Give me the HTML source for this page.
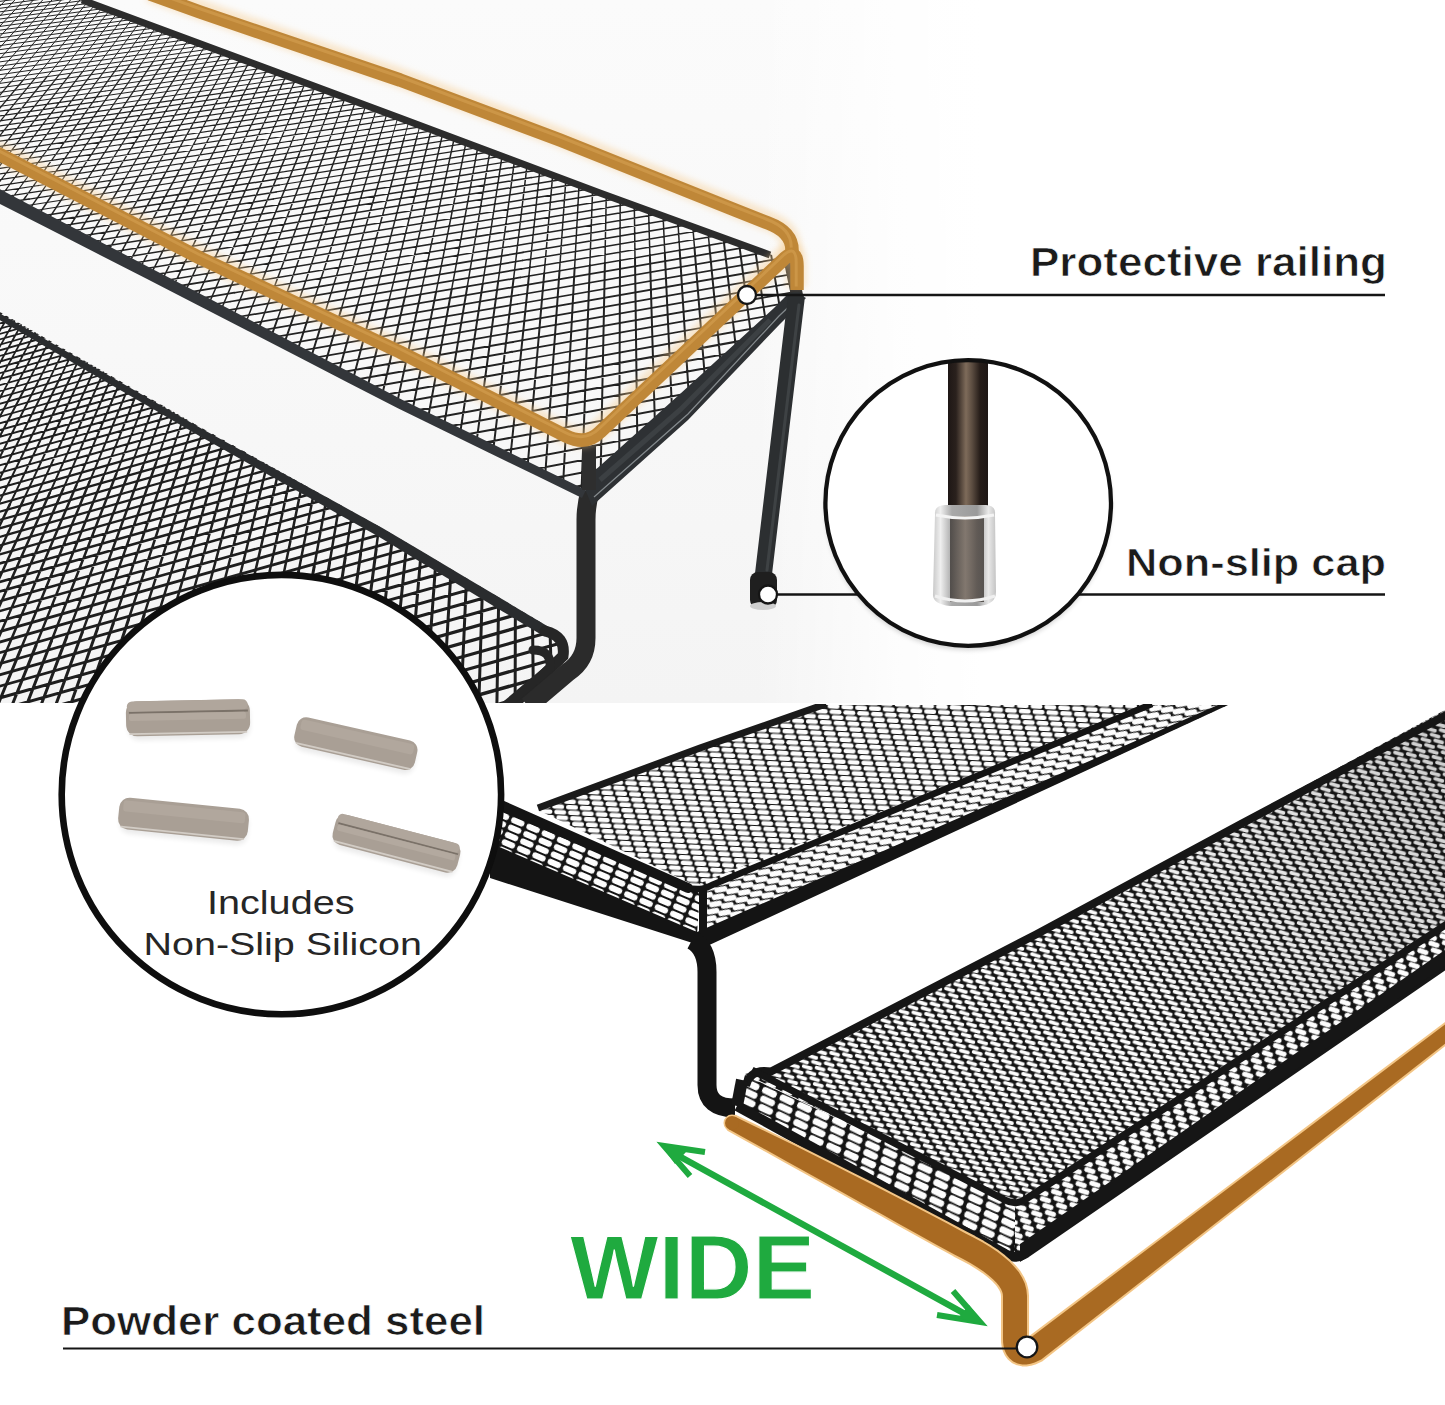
<!DOCTYPE html>
<html><head><meta charset="utf-8"><style>
html,body{margin:0;padding:0;background:#fff;}
svg{display:block;}
</style></head><body>
<svg width="1445" height="1405" viewBox="0 0 1445 1405">
<defs>
<pattern id="b1" width="13.820" height="32.867" patternUnits="userSpaceOnUse" patternTransform="rotate(3.111)"><rect width="14.820" height="33.867" fill="#151515"/><rect x="-6.00" y="-2.20" width="12.00" height="4.40" rx="2.20" transform="translate(-13.82,2.74) rotate(-0.11) skewX(0.00)" fill="#fdfdfd"/><rect x="-6.00" y="-2.20" width="12.00" height="4.40" rx="2.20" transform="translate(-13.82,35.61) rotate(-0.11) skewX(0.00)" fill="#fdfdfd"/><rect x="-6.00" y="-2.20" width="12.00" height="4.40" rx="2.20" transform="translate(0.00,2.74) rotate(-0.11) skewX(0.00)" fill="#fdfdfd"/><rect x="-6.00" y="-2.20" width="12.00" height="4.40" rx="2.20" transform="translate(0.00,35.61) rotate(-0.11) skewX(0.00)" fill="#fdfdfd"/><rect x="-6.00" y="-2.20" width="12.00" height="4.40" rx="2.20" transform="translate(13.82,2.74) rotate(-0.11) skewX(0.00)" fill="#fdfdfd"/><rect x="-6.00" y="-2.20" width="12.00" height="4.40" rx="2.20" transform="translate(13.82,35.61) rotate(-0.11) skewX(0.00)" fill="#fdfdfd"/><rect x="-6.00" y="-2.20" width="12.00" height="4.40" rx="2.20" transform="translate(-11.52,8.22) rotate(-0.11) skewX(0.00)" fill="#fdfdfd"/><rect x="-6.00" y="-2.20" width="12.00" height="4.40" rx="2.20" transform="translate(-11.52,41.08) rotate(-0.11) skewX(0.00)" fill="#fdfdfd"/><rect x="-6.00" y="-2.20" width="12.00" height="4.40" rx="2.20" transform="translate(2.30,8.22) rotate(-0.11) skewX(0.00)" fill="#fdfdfd"/><rect x="-6.00" y="-2.20" width="12.00" height="4.40" rx="2.20" transform="translate(2.30,41.08) rotate(-0.11) skewX(0.00)" fill="#fdfdfd"/><rect x="-6.00" y="-2.20" width="12.00" height="4.40" rx="2.20" transform="translate(16.12,8.22) rotate(-0.11) skewX(0.00)" fill="#fdfdfd"/><rect x="-6.00" y="-2.20" width="12.00" height="4.40" rx="2.20" transform="translate(16.12,41.08) rotate(-0.11) skewX(0.00)" fill="#fdfdfd"/><rect x="-6.00" y="-2.20" width="12.00" height="4.40" rx="2.20" transform="translate(-9.21,13.69) rotate(-0.11) skewX(0.00)" fill="#fdfdfd"/><rect x="-6.00" y="-2.20" width="12.00" height="4.40" rx="2.20" transform="translate(-9.21,46.56) rotate(-0.11) skewX(0.00)" fill="#fdfdfd"/><rect x="-6.00" y="-2.20" width="12.00" height="4.40" rx="2.20" transform="translate(4.61,13.69) rotate(-0.11) skewX(0.00)" fill="#fdfdfd"/><rect x="-6.00" y="-2.20" width="12.00" height="4.40" rx="2.20" transform="translate(4.61,46.56) rotate(-0.11) skewX(0.00)" fill="#fdfdfd"/><rect x="-6.00" y="-2.20" width="12.00" height="4.40" rx="2.20" transform="translate(18.43,13.69) rotate(-0.11) skewX(0.00)" fill="#fdfdfd"/><rect x="-6.00" y="-2.20" width="12.00" height="4.40" rx="2.20" transform="translate(18.43,46.56) rotate(-0.11) skewX(0.00)" fill="#fdfdfd"/><rect x="-6.00" y="-2.20" width="12.00" height="4.40" rx="2.20" transform="translate(-6.91,-13.69) rotate(-0.11) skewX(0.00)" fill="#fdfdfd"/><rect x="-6.00" y="-2.20" width="12.00" height="4.40" rx="2.20" transform="translate(-6.91,19.17) rotate(-0.11) skewX(0.00)" fill="#fdfdfd"/><rect x="-6.00" y="-2.20" width="12.00" height="4.40" rx="2.20" transform="translate(6.91,-13.69) rotate(-0.11) skewX(0.00)" fill="#fdfdfd"/><rect x="-6.00" y="-2.20" width="12.00" height="4.40" rx="2.20" transform="translate(6.91,19.17) rotate(-0.11) skewX(0.00)" fill="#fdfdfd"/><rect x="-6.00" y="-2.20" width="12.00" height="4.40" rx="2.20" transform="translate(20.73,-13.69) rotate(-0.11) skewX(0.00)" fill="#fdfdfd"/><rect x="-6.00" y="-2.20" width="12.00" height="4.40" rx="2.20" transform="translate(20.73,19.17) rotate(-0.11) skewX(0.00)" fill="#fdfdfd"/><rect x="-6.00" y="-2.20" width="12.00" height="4.40" rx="2.20" transform="translate(-4.61,-8.22) rotate(-0.11) skewX(0.00)" fill="#fdfdfd"/><rect x="-6.00" y="-2.20" width="12.00" height="4.40" rx="2.20" transform="translate(-4.61,24.65) rotate(-0.11) skewX(0.00)" fill="#fdfdfd"/><rect x="-6.00" y="-2.20" width="12.00" height="4.40" rx="2.20" transform="translate(9.21,-8.22) rotate(-0.11) skewX(0.00)" fill="#fdfdfd"/><rect x="-6.00" y="-2.20" width="12.00" height="4.40" rx="2.20" transform="translate(9.21,24.65) rotate(-0.11) skewX(0.00)" fill="#fdfdfd"/><rect x="-6.00" y="-2.20" width="12.00" height="4.40" rx="2.20" transform="translate(23.03,-8.22) rotate(-0.11) skewX(0.00)" fill="#fdfdfd"/><rect x="-6.00" y="-2.20" width="12.00" height="4.40" rx="2.20" transform="translate(23.03,24.65) rotate(-0.11) skewX(0.00)" fill="#fdfdfd"/><rect x="-6.00" y="-2.20" width="12.00" height="4.40" rx="2.20" transform="translate(-2.30,-2.74) rotate(-0.11) skewX(0.00)" fill="#fdfdfd"/><rect x="-6.00" y="-2.20" width="12.00" height="4.40" rx="2.20" transform="translate(-2.30,30.13) rotate(-0.11) skewX(0.00)" fill="#fdfdfd"/><rect x="-6.00" y="-2.20" width="12.00" height="4.40" rx="2.20" transform="translate(11.52,-2.74) rotate(-0.11) skewX(0.00)" fill="#fdfdfd"/><rect x="-6.00" y="-2.20" width="12.00" height="4.40" rx="2.20" transform="translate(11.52,30.13) rotate(-0.11) skewX(0.00)" fill="#fdfdfd"/><rect x="-6.00" y="-2.20" width="12.00" height="4.40" rx="2.20" transform="translate(25.34,-2.74) rotate(-0.11) skewX(0.00)" fill="#fdfdfd"/><rect x="-6.00" y="-2.20" width="12.00" height="4.40" rx="2.20" transform="translate(25.34,30.13) rotate(-0.11) skewX(0.00)" fill="#fdfdfd"/></pattern>
<pattern id="b2" width="15.524" height="17.234" patternUnits="userSpaceOnUse" patternTransform="rotate(-21.938)"><rect width="16.524" height="18.234" fill="#141414"/><rect x="-6.50" y="-2.80" width="13.00" height="5.60" rx="2.60" transform="translate(0.00,-14.36) rotate(11.94) skewX(0.00)" fill="#fdfdfd"/><rect x="-6.50" y="-2.80" width="13.00" height="5.60" rx="2.60" transform="translate(0.00,2.87) rotate(11.94) skewX(0.00)" fill="#fdfdfd"/><rect x="-6.50" y="-2.80" width="13.00" height="5.60" rx="2.60" transform="translate(0.00,20.11) rotate(11.94) skewX(0.00)" fill="#fdfdfd"/><rect x="-6.50" y="-2.80" width="13.00" height="5.60" rx="2.60" transform="translate(15.52,-14.36) rotate(11.94) skewX(0.00)" fill="#fdfdfd"/><rect x="-6.50" y="-2.80" width="13.00" height="5.60" rx="2.60" transform="translate(15.52,2.87) rotate(11.94) skewX(0.00)" fill="#fdfdfd"/><rect x="-6.50" y="-2.80" width="13.00" height="5.60" rx="2.60" transform="translate(15.52,20.11) rotate(11.94) skewX(0.00)" fill="#fdfdfd"/><rect x="-6.50" y="-2.80" width="13.00" height="5.60" rx="2.60" transform="translate(-5.17,-8.62) rotate(11.94) skewX(0.00)" fill="#fdfdfd"/><rect x="-6.50" y="-2.80" width="13.00" height="5.60" rx="2.60" transform="translate(-5.17,8.62) rotate(11.94) skewX(0.00)" fill="#fdfdfd"/><rect x="-6.50" y="-2.80" width="13.00" height="5.60" rx="2.60" transform="translate(-5.17,25.85) rotate(11.94) skewX(0.00)" fill="#fdfdfd"/><rect x="-6.50" y="-2.80" width="13.00" height="5.60" rx="2.60" transform="translate(10.35,-8.62) rotate(11.94) skewX(0.00)" fill="#fdfdfd"/><rect x="-6.50" y="-2.80" width="13.00" height="5.60" rx="2.60" transform="translate(10.35,8.62) rotate(11.94) skewX(0.00)" fill="#fdfdfd"/><rect x="-6.50" y="-2.80" width="13.00" height="5.60" rx="2.60" transform="translate(10.35,25.85) rotate(11.94) skewX(0.00)" fill="#fdfdfd"/><rect x="-6.50" y="-2.80" width="13.00" height="5.60" rx="2.60" transform="translate(25.87,-8.62) rotate(11.94) skewX(0.00)" fill="#fdfdfd"/><rect x="-6.50" y="-2.80" width="13.00" height="5.60" rx="2.60" transform="translate(25.87,8.62) rotate(11.94) skewX(0.00)" fill="#fdfdfd"/><rect x="-6.50" y="-2.80" width="13.00" height="5.60" rx="2.60" transform="translate(25.87,25.85) rotate(11.94) skewX(0.00)" fill="#fdfdfd"/><rect x="-6.50" y="-2.80" width="13.00" height="5.60" rx="2.60" transform="translate(-10.35,-2.87) rotate(11.94) skewX(0.00)" fill="#fdfdfd"/><rect x="-6.50" y="-2.80" width="13.00" height="5.60" rx="2.60" transform="translate(-10.35,14.36) rotate(11.94) skewX(0.00)" fill="#fdfdfd"/><rect x="-6.50" y="-2.80" width="13.00" height="5.60" rx="2.60" transform="translate(-10.35,31.60) rotate(11.94) skewX(0.00)" fill="#fdfdfd"/><rect x="-6.50" y="-2.80" width="13.00" height="5.60" rx="2.60" transform="translate(5.17,-2.87) rotate(11.94) skewX(0.00)" fill="#fdfdfd"/><rect x="-6.50" y="-2.80" width="13.00" height="5.60" rx="2.60" transform="translate(5.17,14.36) rotate(11.94) skewX(0.00)" fill="#fdfdfd"/><rect x="-6.50" y="-2.80" width="13.00" height="5.60" rx="2.60" transform="translate(5.17,31.60) rotate(11.94) skewX(0.00)" fill="#fdfdfd"/><rect x="-6.50" y="-2.80" width="13.00" height="5.60" rx="2.60" transform="translate(20.70,-2.87) rotate(11.94) skewX(0.00)" fill="#fdfdfd"/><rect x="-6.50" y="-2.80" width="13.00" height="5.60" rx="2.60" transform="translate(20.70,14.36) rotate(11.94) skewX(0.00)" fill="#fdfdfd"/><rect x="-6.50" y="-2.80" width="13.00" height="5.60" rx="2.60" transform="translate(20.70,31.60) rotate(11.94) skewX(0.00)" fill="#fdfdfd"/></pattern>
<pattern id="b3" width="16.623" height="7.972" patternUnits="userSpaceOnUse" patternTransform="rotate(23.018)"><rect width="17.623" height="8.972" fill="#141414"/><rect x="-7.00" y="-2.90" width="14.00" height="5.80" rx="2.80" transform="translate(0.00,-3.99) rotate(-0.02) skewX(0.00)" fill="#fdfdfd"/><rect x="-7.00" y="-2.90" width="14.00" height="5.80" rx="2.80" transform="translate(0.00,3.99) rotate(-0.02) skewX(0.00)" fill="#fdfdfd"/><rect x="-7.00" y="-2.90" width="14.00" height="5.80" rx="2.80" transform="translate(0.00,11.96) rotate(-0.02) skewX(0.00)" fill="#fdfdfd"/><rect x="-7.00" y="-2.90" width="14.00" height="5.80" rx="2.80" transform="translate(16.62,-3.99) rotate(-0.02) skewX(0.00)" fill="#fdfdfd"/><rect x="-7.00" y="-2.90" width="14.00" height="5.80" rx="2.80" transform="translate(16.62,3.99) rotate(-0.02) skewX(0.00)" fill="#fdfdfd"/><rect x="-7.00" y="-2.90" width="14.00" height="5.80" rx="2.80" transform="translate(16.62,11.96) rotate(-0.02) skewX(0.00)" fill="#fdfdfd"/></pattern>
<pattern id="b4" width="12.876" height="16.356" patternUnits="userSpaceOnUse" patternTransform="rotate(6.242)"><rect width="13.876" height="17.356" fill="#141414"/><rect x="-5.50" y="-1.85" width="11.00" height="3.70" rx="1.85" transform="translate(-12.88,2.73) rotate(10.76) skewX(0.00)" fill="#fdfdfd"/><rect x="-5.50" y="-1.85" width="11.00" height="3.70" rx="1.85" transform="translate(-12.88,19.08) rotate(10.76) skewX(0.00)" fill="#fdfdfd"/><rect x="-5.50" y="-1.85" width="11.00" height="3.70" rx="1.85" transform="translate(0.00,2.73) rotate(10.76) skewX(0.00)" fill="#fdfdfd"/><rect x="-5.50" y="-1.85" width="11.00" height="3.70" rx="1.85" transform="translate(0.00,19.08) rotate(10.76) skewX(0.00)" fill="#fdfdfd"/><rect x="-5.50" y="-1.85" width="11.00" height="3.70" rx="1.85" transform="translate(12.88,2.73) rotate(10.76) skewX(0.00)" fill="#fdfdfd"/><rect x="-5.50" y="-1.85" width="11.00" height="3.70" rx="1.85" transform="translate(12.88,19.08) rotate(10.76) skewX(0.00)" fill="#fdfdfd"/><rect x="-5.50" y="-1.85" width="11.00" height="3.70" rx="1.85" transform="translate(-8.58,-8.18) rotate(10.76) skewX(0.00)" fill="#fdfdfd"/><rect x="-5.50" y="-1.85" width="11.00" height="3.70" rx="1.85" transform="translate(-8.58,8.18) rotate(10.76) skewX(0.00)" fill="#fdfdfd"/><rect x="-5.50" y="-1.85" width="11.00" height="3.70" rx="1.85" transform="translate(-8.58,24.53) rotate(10.76) skewX(0.00)" fill="#fdfdfd"/><rect x="-5.50" y="-1.85" width="11.00" height="3.70" rx="1.85" transform="translate(4.29,-8.18) rotate(10.76) skewX(0.00)" fill="#fdfdfd"/><rect x="-5.50" y="-1.85" width="11.00" height="3.70" rx="1.85" transform="translate(4.29,8.18) rotate(10.76) skewX(0.00)" fill="#fdfdfd"/><rect x="-5.50" y="-1.85" width="11.00" height="3.70" rx="1.85" transform="translate(4.29,24.53) rotate(10.76) skewX(0.00)" fill="#fdfdfd"/><rect x="-5.50" y="-1.85" width="11.00" height="3.70" rx="1.85" transform="translate(17.17,-8.18) rotate(10.76) skewX(0.00)" fill="#fdfdfd"/><rect x="-5.50" y="-1.85" width="11.00" height="3.70" rx="1.85" transform="translate(17.17,8.18) rotate(10.76) skewX(0.00)" fill="#fdfdfd"/><rect x="-5.50" y="-1.85" width="11.00" height="3.70" rx="1.85" transform="translate(17.17,24.53) rotate(10.76) skewX(0.00)" fill="#fdfdfd"/><rect x="-5.50" y="-1.85" width="11.00" height="3.70" rx="1.85" transform="translate(-4.29,-2.73) rotate(10.76) skewX(0.00)" fill="#fdfdfd"/><rect x="-5.50" y="-1.85" width="11.00" height="3.70" rx="1.85" transform="translate(-4.29,13.63) rotate(10.76) skewX(0.00)" fill="#fdfdfd"/><rect x="-5.50" y="-1.85" width="11.00" height="3.70" rx="1.85" transform="translate(8.58,-2.73) rotate(10.76) skewX(0.00)" fill="#fdfdfd"/><rect x="-5.50" y="-1.85" width="11.00" height="3.70" rx="1.85" transform="translate(8.58,13.63) rotate(10.76) skewX(0.00)" fill="#fdfdfd"/><rect x="-5.50" y="-1.85" width="11.00" height="3.70" rx="1.85" transform="translate(21.46,-2.73) rotate(10.76) skewX(0.00)" fill="#fdfdfd"/><rect x="-5.50" y="-1.85" width="11.00" height="3.70" rx="1.85" transform="translate(21.46,13.63) rotate(10.76) skewX(0.00)" fill="#fdfdfd"/></pattern>
<pattern id="b5" width="19.039" height="103.207" patternUnits="userSpaceOnUse" patternTransform="rotate(23.199)"><rect width="20.039" height="104.207" fill="#141414"/><rect x="-7.75" y="-3.40" width="15.50" height="6.80" rx="3.20" transform="translate(0.00,4.30) rotate(1.80) skewX(0.00)" fill="#fdfdfd"/><rect x="-7.75" y="-3.40" width="15.50" height="6.80" rx="3.20" transform="translate(0.00,107.51) rotate(1.80) skewX(0.00)" fill="#fdfdfd"/><rect x="-7.75" y="-3.40" width="15.50" height="6.80" rx="3.20" transform="translate(19.04,4.30) rotate(1.80) skewX(0.00)" fill="#fdfdfd"/><rect x="-7.75" y="-3.40" width="15.50" height="6.80" rx="3.20" transform="translate(19.04,107.51) rotate(1.80) skewX(0.00)" fill="#fdfdfd"/><rect x="-7.75" y="-3.40" width="15.50" height="6.80" rx="3.20" transform="translate(-17.45,12.90) rotate(1.80) skewX(0.00)" fill="#fdfdfd"/><rect x="-7.75" y="-3.40" width="15.50" height="6.80" rx="3.20" transform="translate(-17.45,116.11) rotate(1.80) skewX(0.00)" fill="#fdfdfd"/><rect x="-7.75" y="-3.40" width="15.50" height="6.80" rx="3.20" transform="translate(1.59,12.90) rotate(1.80) skewX(0.00)" fill="#fdfdfd"/><rect x="-7.75" y="-3.40" width="15.50" height="6.80" rx="3.20" transform="translate(1.59,116.11) rotate(1.80) skewX(0.00)" fill="#fdfdfd"/><rect x="-7.75" y="-3.40" width="15.50" height="6.80" rx="3.20" transform="translate(20.63,12.90) rotate(1.80) skewX(0.00)" fill="#fdfdfd"/><rect x="-7.75" y="-3.40" width="15.50" height="6.80" rx="3.20" transform="translate(20.63,116.11) rotate(1.80) skewX(0.00)" fill="#fdfdfd"/><rect x="-7.75" y="-3.40" width="15.50" height="6.80" rx="3.20" transform="translate(-15.87,21.50) rotate(1.80) skewX(0.00)" fill="#fdfdfd"/><rect x="-7.75" y="-3.40" width="15.50" height="6.80" rx="3.20" transform="translate(3.17,21.50) rotate(1.80) skewX(0.00)" fill="#fdfdfd"/><rect x="-7.75" y="-3.40" width="15.50" height="6.80" rx="3.20" transform="translate(22.21,21.50) rotate(1.80) skewX(0.00)" fill="#fdfdfd"/><rect x="-7.75" y="-3.40" width="15.50" height="6.80" rx="3.20" transform="translate(-14.28,30.10) rotate(1.80) skewX(0.00)" fill="#fdfdfd"/><rect x="-7.75" y="-3.40" width="15.50" height="6.80" rx="3.20" transform="translate(4.76,30.10) rotate(1.80) skewX(0.00)" fill="#fdfdfd"/><rect x="-7.75" y="-3.40" width="15.50" height="6.80" rx="3.20" transform="translate(23.80,30.10) rotate(1.80) skewX(0.00)" fill="#fdfdfd"/><rect x="-7.75" y="-3.40" width="15.50" height="6.80" rx="3.20" transform="translate(-12.69,38.70) rotate(1.80) skewX(0.00)" fill="#fdfdfd"/><rect x="-7.75" y="-3.40" width="15.50" height="6.80" rx="3.20" transform="translate(6.35,38.70) rotate(1.80) skewX(0.00)" fill="#fdfdfd"/><rect x="-7.75" y="-3.40" width="15.50" height="6.80" rx="3.20" transform="translate(25.39,38.70) rotate(1.80) skewX(0.00)" fill="#fdfdfd"/><rect x="-7.75" y="-3.40" width="15.50" height="6.80" rx="3.20" transform="translate(-11.11,47.30) rotate(1.80) skewX(0.00)" fill="#fdfdfd"/><rect x="-7.75" y="-3.40" width="15.50" height="6.80" rx="3.20" transform="translate(7.93,47.30) rotate(1.80) skewX(0.00)" fill="#fdfdfd"/><rect x="-7.75" y="-3.40" width="15.50" height="6.80" rx="3.20" transform="translate(26.97,47.30) rotate(1.80) skewX(0.00)" fill="#fdfdfd"/><rect x="-7.75" y="-3.40" width="15.50" height="6.80" rx="3.20" transform="translate(-9.52,55.90) rotate(1.80) skewX(0.00)" fill="#fdfdfd"/><rect x="-7.75" y="-3.40" width="15.50" height="6.80" rx="3.20" transform="translate(9.52,55.90) rotate(1.80) skewX(0.00)" fill="#fdfdfd"/><rect x="-7.75" y="-3.40" width="15.50" height="6.80" rx="3.20" transform="translate(28.56,55.90) rotate(1.80) skewX(0.00)" fill="#fdfdfd"/><rect x="-7.75" y="-3.40" width="15.50" height="6.80" rx="3.20" transform="translate(-7.93,64.50) rotate(1.80) skewX(0.00)" fill="#fdfdfd"/><rect x="-7.75" y="-3.40" width="15.50" height="6.80" rx="3.20" transform="translate(11.11,64.50) rotate(1.80) skewX(0.00)" fill="#fdfdfd"/><rect x="-7.75" y="-3.40" width="15.50" height="6.80" rx="3.20" transform="translate(30.15,64.50) rotate(1.80) skewX(0.00)" fill="#fdfdfd"/><rect x="-7.75" y="-3.40" width="15.50" height="6.80" rx="3.20" transform="translate(-6.35,73.10) rotate(1.80) skewX(0.00)" fill="#fdfdfd"/><rect x="-7.75" y="-3.40" width="15.50" height="6.80" rx="3.20" transform="translate(12.69,73.10) rotate(1.80) skewX(0.00)" fill="#fdfdfd"/><rect x="-7.75" y="-3.40" width="15.50" height="6.80" rx="3.20" transform="translate(31.73,73.10) rotate(1.80) skewX(0.00)" fill="#fdfdfd"/><rect x="-7.75" y="-3.40" width="15.50" height="6.80" rx="3.20" transform="translate(-4.76,81.71) rotate(1.80) skewX(0.00)" fill="#fdfdfd"/><rect x="-7.75" y="-3.40" width="15.50" height="6.80" rx="3.20" transform="translate(14.28,81.71) rotate(1.80) skewX(0.00)" fill="#fdfdfd"/><rect x="-7.75" y="-3.40" width="15.50" height="6.80" rx="3.20" transform="translate(33.32,81.71) rotate(1.80) skewX(0.00)" fill="#fdfdfd"/><rect x="-7.75" y="-3.40" width="15.50" height="6.80" rx="3.20" transform="translate(-3.17,-12.90) rotate(1.80) skewX(0.00)" fill="#fdfdfd"/><rect x="-7.75" y="-3.40" width="15.50" height="6.80" rx="3.20" transform="translate(-3.17,90.31) rotate(1.80) skewX(0.00)" fill="#fdfdfd"/><rect x="-7.75" y="-3.40" width="15.50" height="6.80" rx="3.20" transform="translate(15.87,-12.90) rotate(1.80) skewX(0.00)" fill="#fdfdfd"/><rect x="-7.75" y="-3.40" width="15.50" height="6.80" rx="3.20" transform="translate(15.87,90.31) rotate(1.80) skewX(0.00)" fill="#fdfdfd"/><rect x="-7.75" y="-3.40" width="15.50" height="6.80" rx="3.20" transform="translate(34.91,-12.90) rotate(1.80) skewX(0.00)" fill="#fdfdfd"/><rect x="-7.75" y="-3.40" width="15.50" height="6.80" rx="3.20" transform="translate(34.91,90.31) rotate(1.80) skewX(0.00)" fill="#fdfdfd"/><rect x="-7.75" y="-3.40" width="15.50" height="6.80" rx="3.20" transform="translate(-1.59,-4.30) rotate(1.80) skewX(0.00)" fill="#fdfdfd"/><rect x="-7.75" y="-3.40" width="15.50" height="6.80" rx="3.20" transform="translate(-1.59,98.91) rotate(1.80) skewX(0.00)" fill="#fdfdfd"/><rect x="-7.75" y="-3.40" width="15.50" height="6.80" rx="3.20" transform="translate(17.45,-4.30) rotate(1.80) skewX(0.00)" fill="#fdfdfd"/><rect x="-7.75" y="-3.40" width="15.50" height="6.80" rx="3.20" transform="translate(17.45,98.91) rotate(1.80) skewX(0.00)" fill="#fdfdfd"/><rect x="-7.75" y="-3.40" width="15.50" height="6.80" rx="3.20" transform="translate(36.49,-4.30) rotate(1.80) skewX(0.00)" fill="#fdfdfd"/><rect x="-7.75" y="-3.40" width="15.50" height="6.80" rx="3.20" transform="translate(36.49,98.91) rotate(1.80) skewX(0.00)" fill="#fdfdfd"/></pattern>
<pattern id="b6" width="13.285" height="56.441" patternUnits="userSpaceOnUse" patternTransform="rotate(-33.331)"><rect width="14.285" height="57.441" fill="#141414"/><rect x="-5.75" y="-2.50" width="11.50" height="5.00" rx="2.50" transform="translate(-13.29,3.53) rotate(51.33) skewX(0.00)" fill="#fdfdfd"/><rect x="-5.75" y="-2.50" width="11.50" height="5.00" rx="2.50" transform="translate(-13.29,59.97) rotate(51.33) skewX(0.00)" fill="#fdfdfd"/><rect x="-5.75" y="-2.50" width="11.50" height="5.00" rx="2.50" transform="translate(0.00,3.53) rotate(51.33) skewX(0.00)" fill="#fdfdfd"/><rect x="-5.75" y="-2.50" width="11.50" height="5.00" rx="2.50" transform="translate(0.00,59.97) rotate(51.33) skewX(0.00)" fill="#fdfdfd"/><rect x="-5.75" y="-2.50" width="11.50" height="5.00" rx="2.50" transform="translate(13.29,3.53) rotate(51.33) skewX(0.00)" fill="#fdfdfd"/><rect x="-5.75" y="-2.50" width="11.50" height="5.00" rx="2.50" transform="translate(13.29,59.97) rotate(51.33) skewX(0.00)" fill="#fdfdfd"/><rect x="-5.75" y="-2.50" width="11.50" height="5.00" rx="2.50" transform="translate(-1.66,10.58) rotate(51.33) skewX(0.00)" fill="#fdfdfd"/><rect x="-5.75" y="-2.50" width="11.50" height="5.00" rx="2.50" transform="translate(-1.66,67.02) rotate(51.33) skewX(0.00)" fill="#fdfdfd"/><rect x="-5.75" y="-2.50" width="11.50" height="5.00" rx="2.50" transform="translate(11.62,10.58) rotate(51.33) skewX(0.00)" fill="#fdfdfd"/><rect x="-5.75" y="-2.50" width="11.50" height="5.00" rx="2.50" transform="translate(11.62,67.02) rotate(51.33) skewX(0.00)" fill="#fdfdfd"/><rect x="-5.75" y="-2.50" width="11.50" height="5.00" rx="2.50" transform="translate(24.91,10.58) rotate(51.33) skewX(0.00)" fill="#fdfdfd"/><rect x="-5.75" y="-2.50" width="11.50" height="5.00" rx="2.50" transform="translate(24.91,67.02) rotate(51.33) skewX(0.00)" fill="#fdfdfd"/><rect x="-5.75" y="-2.50" width="11.50" height="5.00" rx="2.50" transform="translate(-3.32,17.64) rotate(51.33) skewX(0.00)" fill="#fdfdfd"/><rect x="-5.75" y="-2.50" width="11.50" height="5.00" rx="2.50" transform="translate(9.96,17.64) rotate(51.33) skewX(0.00)" fill="#fdfdfd"/><rect x="-5.75" y="-2.50" width="11.50" height="5.00" rx="2.50" transform="translate(23.25,17.64) rotate(51.33) skewX(0.00)" fill="#fdfdfd"/><rect x="-5.75" y="-2.50" width="11.50" height="5.00" rx="2.50" transform="translate(-4.98,24.69) rotate(51.33) skewX(0.00)" fill="#fdfdfd"/><rect x="-5.75" y="-2.50" width="11.50" height="5.00" rx="2.50" transform="translate(8.30,24.69) rotate(51.33) skewX(0.00)" fill="#fdfdfd"/><rect x="-5.75" y="-2.50" width="11.50" height="5.00" rx="2.50" transform="translate(21.59,24.69) rotate(51.33) skewX(0.00)" fill="#fdfdfd"/><rect x="-5.75" y="-2.50" width="11.50" height="5.00" rx="2.50" transform="translate(-6.64,31.75) rotate(51.33) skewX(0.00)" fill="#fdfdfd"/><rect x="-5.75" y="-2.50" width="11.50" height="5.00" rx="2.50" transform="translate(6.64,31.75) rotate(51.33) skewX(0.00)" fill="#fdfdfd"/><rect x="-5.75" y="-2.50" width="11.50" height="5.00" rx="2.50" transform="translate(19.93,31.75) rotate(51.33) skewX(0.00)" fill="#fdfdfd"/><rect x="-5.75" y="-2.50" width="11.50" height="5.00" rx="2.50" transform="translate(-8.30,38.80) rotate(51.33) skewX(0.00)" fill="#fdfdfd"/><rect x="-5.75" y="-2.50" width="11.50" height="5.00" rx="2.50" transform="translate(4.98,38.80) rotate(51.33) skewX(0.00)" fill="#fdfdfd"/><rect x="-5.75" y="-2.50" width="11.50" height="5.00" rx="2.50" transform="translate(18.27,38.80) rotate(51.33) skewX(0.00)" fill="#fdfdfd"/><rect x="-5.75" y="-2.50" width="11.50" height="5.00" rx="2.50" transform="translate(-9.96,-10.58) rotate(51.33) skewX(0.00)" fill="#fdfdfd"/><rect x="-5.75" y="-2.50" width="11.50" height="5.00" rx="2.50" transform="translate(-9.96,45.86) rotate(51.33) skewX(0.00)" fill="#fdfdfd"/><rect x="-5.75" y="-2.50" width="11.50" height="5.00" rx="2.50" transform="translate(3.32,-10.58) rotate(51.33) skewX(0.00)" fill="#fdfdfd"/><rect x="-5.75" y="-2.50" width="11.50" height="5.00" rx="2.50" transform="translate(3.32,45.86) rotate(51.33) skewX(0.00)" fill="#fdfdfd"/><rect x="-5.75" y="-2.50" width="11.50" height="5.00" rx="2.50" transform="translate(16.61,-10.58) rotate(51.33) skewX(0.00)" fill="#fdfdfd"/><rect x="-5.75" y="-2.50" width="11.50" height="5.00" rx="2.50" transform="translate(16.61,45.86) rotate(51.33) skewX(0.00)" fill="#fdfdfd"/><rect x="-5.75" y="-2.50" width="11.50" height="5.00" rx="2.50" transform="translate(-11.62,-3.53) rotate(51.33) skewX(0.00)" fill="#fdfdfd"/><rect x="-5.75" y="-2.50" width="11.50" height="5.00" rx="2.50" transform="translate(-11.62,52.91) rotate(51.33) skewX(0.00)" fill="#fdfdfd"/><rect x="-5.75" y="-2.50" width="11.50" height="5.00" rx="2.50" transform="translate(1.66,-3.53) rotate(51.33) skewX(0.00)" fill="#fdfdfd"/><rect x="-5.75" y="-2.50" width="11.50" height="5.00" rx="2.50" transform="translate(1.66,52.91) rotate(51.33) skewX(0.00)" fill="#fdfdfd"/><rect x="-5.75" y="-2.50" width="11.50" height="5.00" rx="2.50" transform="translate(14.95,-3.53) rotate(51.33) skewX(0.00)" fill="#fdfdfd"/><rect x="-5.75" y="-2.50" width="11.50" height="5.00" rx="2.50" transform="translate(14.95,52.91) rotate(51.33) skewX(0.00)" fill="#fdfdfd"/></pattern>
 <linearGradient id="farDark" gradientUnits="userSpaceOnUse" x1="1150" y1="1000" x2="1445" y2="760">
  <stop offset="0" stop-color="#141414" stop-opacity="0"/><stop offset="1" stop-color="#141414" stop-opacity="0.2"/>
 </linearGradient>
 <filter id="soft" x="-20%" y="-50%" width="140%" height="200%"><feGaussianBlur stdDeviation="2.5"/></filter>
 <filter id="glow" x="-20%" y="-20%" width="140%" height="140%"><feGaussianBlur stdDeviation="3"/></filter>
 <clipPath id="cR"><circle cx="968.2" cy="503" r="142.8"/></clipPath>
 <clipPath id="topclip"><rect x="0" y="0" width="1445" height="703"/></clipPath>
 <clipPath id="botclip"><rect x="0" y="704" width="1445" height="701"/></clipPath>
 <linearGradient id="bgv" x1="0" x2="0" y1="0" y2="703" gradientUnits="userSpaceOnUse">
  <stop offset="0" stop-color="#fbfbfb"/><stop offset="0.5" stop-color="#f8f8f8"/><stop offset="1" stop-color="#f4f4f4"/>
 </linearGradient>
 <linearGradient id="bgfade" x1="0" x2="1445" y1="0" y2="0" gradientUnits="userSpaceOnUse">
  <stop offset="0" stop-color="#fff" stop-opacity="0"/><stop offset="0.52" stop-color="#fff" stop-opacity="0"/><stop offset="0.62" stop-color="#fff" stop-opacity="0.8"/><stop offset="0.68" stop-color="#fff" stop-opacity="1"/>
 </linearGradient>
 <linearGradient id="rod" x1="0" x2="1" y1="0" y2="0">
  <stop offset="0" stop-color="#1e1715"/><stop offset="0.2" stop-color="#2a211d"/><stop offset="0.45" stop-color="#7e6b5a"/><stop offset="0.6" stop-color="#5c4d41"/><stop offset="0.8" stop-color="#261d19"/><stop offset="1" stop-color="#1e1715"/>
 </linearGradient>
 <linearGradient id="rodin" x1="0" x2="1" y1="0" y2="0">
  <stop offset="0" stop-color="#3a3532"/><stop offset="0.45" stop-color="#7a6d62"/><stop offset="0.6" stop-color="#6a5f56"/><stop offset="1" stop-color="#3a3532"/>
 </linearGradient>
 <linearGradient id="capg" x1="0" x2="1" y1="0" y2="0">
  <stop offset="0" stop-color="#c9c9c9"/><stop offset="0.12" stop-color="#efefef"/><stop offset="0.3" stop-color="#a9a9a9"/><stop offset="0.7" stop-color="#9a9a9a"/><stop offset="0.88" stop-color="#e9e9e9"/><stop offset="1" stop-color="#c4c4c4"/>
 </linearGradient>
</defs>
<rect width="1445" height="1405" fill="#fff"/>
<g clip-path="url(#topclip)">
<rect x="0" y="0" width="1445" height="703" fill="url(#bgv)"/>
<rect x="0" y="0" width="1445" height="703" fill="url(#bgfade)"/>
<clipPath id="cLowA"><polygon points="0.0,312.0 200.0,427.0 380.0,527.0 547.0,626.0 562.0,640.0 565.0,660.0 510.0,703.0 0.0,703.0"/></clipPath>
<g clip-path="url(#cLowA)">
<path d="M-4.1,304.5L135.5,264.8M135.5,264.8L275.4,225.1M275.4,225.1L415.4,185.4M415.4,185.4L555.7,145.5M-7.7,310.4L132.9,270.5M132.9,270.5L273.7,230.5M273.7,230.5L414.7,190.5M414.7,190.5L556.0,150.4M-11.4,316.5L130.2,276.3M130.2,276.3L272.0,236.0M272.0,236.0L414.0,195.7M414.0,195.7L556.2,155.3M-15.0,322.6L127.5,282.1M127.5,282.1L270.3,241.6M270.3,241.6L413.3,201.0M413.3,201.0L556.5,160.3M-18.8,328.8L124.8,288.0M124.8,288.0L268.6,247.2M268.6,247.2L412.6,206.3M412.6,206.3L556.8,165.4M-22.6,335.0L122.0,294.0M122.0,294.0L266.8,252.9M266.8,252.9L411.8,211.8M411.8,211.8L557.1,170.5M-26.4,341.4L119.2,300.1M119.2,300.1L265.0,258.7M265.0,258.7L411.1,217.3M411.1,217.3L557.3,175.8M-30.3,347.9L116.3,306.3M116.3,306.3L263.2,264.6M263.2,264.6L410.3,222.8M410.3,222.8L557.6,181.0M-34.3,354.4L113.4,312.5M113.4,312.5L261.4,270.5M261.4,270.5L409.5,228.5M409.5,228.5L557.9,186.4M-38.3,361.1L110.5,318.9M110.5,318.9L259.5,276.6M259.5,276.6L408.7,234.3M408.7,234.3L558.2,191.9M-42.3,367.8L107.5,325.3M107.5,325.3L257.6,282.7M257.6,282.7L407.9,240.1M407.9,240.1L558.5,197.4M-46.5,374.7L104.5,331.8M104.5,331.8L255.7,289.0M255.7,289.0L407.1,246.0M407.1,246.0L558.8,203.0M-50.7,381.6L101.4,338.5M101.4,338.5L253.7,295.3M253.7,295.3L406.3,252.0M406.3,252.0L559.1,208.7M-54.9,388.7L98.3,345.2M98.3,345.2L251.7,301.7M251.7,301.7L405.4,258.1M405.4,258.1L559.4,214.5M-59.2,395.8L95.1,352.1M95.1,352.1L249.7,308.2M249.7,308.2L404.6,264.3M404.6,264.3L559.7,220.3M-63.6,403.1L91.9,359.0M91.9,359.0L247.7,314.8M247.7,314.8L403.7,270.6M403.7,270.6L560.0,226.3M-68.1,410.5L88.6,366.0M88.6,366.0L245.6,321.5M245.6,321.5L402.8,277.0M402.8,277.0L560.4,232.3M-72.6,418.0L85.3,373.2M85.3,373.2L243.5,328.4M243.5,328.4L402.0,283.4M402.0,283.4L560.7,238.5M-77.2,425.6L82.0,380.5M82.0,380.5L241.4,335.3M241.4,335.3L401.1,290.0M401.1,290.0L561.0,244.7M-81.9,433.3L78.5,387.8M78.5,387.8L239.2,342.3M239.2,342.3L400.1,296.7M400.1,296.7L561.3,251.0M-86.6,441.1L75.1,395.3M75.1,395.3L237.0,349.5M237.0,349.5L399.2,303.5M399.2,303.5L561.7,257.5M-14.9,311.3L-79.8,417.5M-4.5,308.3L-68.1,414.2M5.9,305.4L-56.5,410.9M16.3,302.4L-44.8,407.6M26.7,299.5L-33.2,404.3M37.1,296.5L-21.5,401.0M47.5,293.6L-9.9,397.7M57.9,290.6L1.8,394.4M68.2,287.6L13.4,391.0M78.6,284.7L25.1,387.7M89.0,281.7L36.8,384.4M99.4,278.8L48.4,381.1M109.8,275.8L60.1,377.8M120.2,272.9L71.8,374.5M130.6,269.9L83.4,371.2M141.1,267.0L95.1,367.9M151.5,264.0L106.8,364.6M161.9,261.1L118.4,361.3M172.3,258.1L130.1,358.0M182.7,255.2L141.8,354.7M193.1,252.2L153.5,351.4M203.5,249.2L165.1,348.0M213.9,246.3L176.8,344.7M224.3,243.3L188.5,341.4M234.7,240.4L200.2,338.1M245.2,237.4L211.9,334.8M255.6,234.5L223.6,331.5M266.0,231.5L235.2,328.2M276.4,228.5L246.9,324.9M286.8,225.6L258.6,321.5M297.3,222.6L270.3,318.2M307.7,219.7L282.0,314.9M318.1,216.7L293.7,311.6M328.5,213.7L305.4,308.3M339.0,210.8L317.1,305.0M349.4,207.8L328.8,301.7M359.8,204.9L340.5,298.3M370.2,201.9L352.2,295.0M380.7,198.9L363.9,291.7M391.1,196.0L375.6,288.4M401.5,193.0L387.3,285.1M412.0,190.1L399.0,281.8M422.4,187.1L410.7,278.4M432.8,184.1L422.4,275.1M443.3,181.2L434.2,271.8M453.7,178.2L445.9,268.5M464.2,175.2L457.6,265.2M474.6,172.3L469.3,261.8M485.0,169.3L481.0,258.5M495.5,166.3L492.7,255.2M505.9,163.4L504.5,251.9M516.4,160.4L516.2,248.5M526.8,157.4L527.9,245.2M537.3,154.5L539.6,241.9M547.7,151.5L551.4,238.6" stroke="#1e1e1e" stroke-width="1.75" fill="none" stroke-linecap="round"/>
<path d="M-91.4,449.1L71.5,402.9M71.5,402.9L234.8,356.7M234.8,356.7L398.3,310.4M398.3,310.4L562.0,264.0M-96.3,457.2L67.9,410.7M67.9,410.7L232.5,364.1M232.5,364.1L397.3,317.4M397.3,317.4L562.4,270.6M-101.3,465.4L64.3,418.6M64.3,418.6L230.2,371.6M230.2,371.6L396.3,324.5M396.3,324.5L562.8,277.4M-106.3,473.8L60.6,426.5M60.6,426.5L227.8,379.2M227.8,379.2L395.3,331.8M395.3,331.8L563.1,284.2M-111.4,482.3L56.8,434.7M56.8,434.7L225.4,386.9M225.4,386.9L394.3,339.1M394.3,339.1L563.5,291.2M-116.7,491.0L53.0,442.9M53.0,442.9L223.0,394.8M223.0,394.8L393.3,346.6M393.3,346.6L563.9,298.3M-122.0,499.7L49.1,451.3M49.1,451.3L220.5,402.8M220.5,402.8L392.2,354.2M392.2,354.2L564.3,305.5M-127.3,508.7L45.2,459.9M45.2,459.9L218.0,410.9M218.0,410.9L391.2,361.9M391.2,361.9L564.6,312.8M-132.8,517.8L41.1,468.5M41.1,468.5L215.5,419.2M215.5,419.2L390.1,369.8M390.1,369.8L565.0,320.3M-138.4,527.0L37.1,477.4M37.1,477.4L212.9,427.6M212.9,427.6L389.0,377.8M389.0,377.8L565.4,327.9M-79.8,417.5L-162.7,553.2M-68.1,414.2L-149.4,549.4M-56.5,410.9L-136.2,545.7M-44.8,407.6L-122.9,541.9M-33.2,404.3L-109.7,538.2M-21.5,401.0L-96.4,534.4M-9.9,397.7L-83.1,530.7M1.8,394.4L-69.9,526.9M13.4,391.0L-56.6,523.1M25.1,387.7L-43.3,519.4M36.8,384.4L-30.0,515.6M48.4,381.1L-16.8,511.9M60.1,377.8L-3.5,508.1M71.8,374.5L9.8,504.4M83.4,371.2L23.1,500.6M95.1,367.9L36.4,496.8M106.8,364.6L49.7,493.1M118.4,361.3L63.0,489.3M130.1,358.0L76.2,485.6M141.8,354.7L89.5,481.8M153.5,351.4L102.8,478.1M165.1,348.0L116.1,474.3M176.8,344.7L129.4,470.5M188.5,341.4L142.7,466.8M200.2,338.1L156.0,463.0M211.9,334.8L169.3,459.2M223.6,331.5L182.6,455.5M235.2,328.2L196.0,451.7M246.9,324.9L209.3,447.9M258.6,321.5L222.6,444.2M270.3,318.2L235.9,440.4M282.0,314.9L249.2,436.7M293.7,311.6L262.5,432.9M305.4,308.3L275.8,429.1M317.1,305.0L289.2,425.3M328.8,301.7L302.5,421.6M340.5,298.3L315.8,417.8M352.2,295.0L329.1,414.0M363.9,291.7L342.5,410.3M375.6,288.4L355.8,406.5M387.3,285.1L369.1,402.7M399.0,281.8L382.5,399.0M410.7,278.4L395.8,395.2M422.4,275.1L409.1,391.4M434.2,271.8L422.5,387.6M445.9,268.5L435.8,383.9M457.6,265.2L449.2,380.1M469.3,261.8L462.5,376.3M481.0,258.5L475.9,372.5M492.7,255.2L489.2,368.8M504.5,251.9L502.6,365.0M516.2,248.5L515.9,361.2M527.9,245.2L529.3,357.4M539.6,241.9L542.6,353.7M551.4,238.6L556.0,349.9" stroke="#1e1e1e" stroke-width="2.0" fill="none" stroke-linecap="round"/>
<path d="M-144.1,536.4L32.9,486.4M32.9,486.4L210.2,436.2M210.2,436.2L387.9,385.9M387.9,385.9L565.9,335.6M-149.9,546.0L28.7,495.5M28.7,495.5L207.5,444.9M207.5,444.9L386.7,394.2M386.7,394.2L566.3,343.4M-155.7,555.7L24.4,504.8M24.4,504.8L204.8,453.8M204.8,453.8L385.6,402.6M385.6,402.6L566.7,351.4M-161.7,565.6L20.0,514.3M20.0,514.3L202.0,462.8M202.0,462.8L384.4,411.2M384.4,411.2L567.1,359.5M-167.8,575.7L15.5,523.9M15.5,523.9L199.2,472.0M199.2,472.0L383.2,419.9M383.2,419.9L567.6,367.8M-174.0,586.0L11.0,533.7M11.0,533.7L196.3,481.3M196.3,481.3L382.0,428.8M382.0,428.8L568.0,376.2M-180.3,596.5L6.3,543.7M6.3,543.7L193.3,490.9M193.3,490.9L380.7,437.9M380.7,437.9L568.5,384.8M-186.7,607.1L1.6,553.9M1.6,553.9L190.3,500.6M190.3,500.6L379.5,447.1M379.5,447.1L569.0,393.6" stroke="#1e1e1e" stroke-width="2.25" fill="none" stroke-linecap="round"/>
<path d="M-193.3,618.0L-3.2,564.3M-3.2,564.3L187.3,510.4M187.3,510.4L378.2,456.5M378.2,456.5L569.4,402.5M-200.0,629.0L-8.1,574.8M-8.1,574.8L184.2,520.5M184.2,520.5L376.9,466.1M376.9,466.1L569.9,411.5M-206.7,640.3L-13.1,585.6M-13.1,585.6L181.0,530.7M181.0,530.7L375.5,475.8M375.5,475.8L570.4,420.8M-213.7,651.8L-18.1,596.5M-18.1,596.5L177.8,541.2M177.8,541.2L374.1,485.8M374.1,485.8L570.9,430.2M-220.7,663.4L-23.3,607.7M-23.3,607.7L174.5,551.9M174.5,551.9L372.8,495.9M372.8,495.9L571.4,439.8M-227.9,675.4L-28.6,619.1M-28.6,619.1L171.2,562.7M171.2,562.7L371.3,506.2M371.3,506.2L571.9,449.6M-235.3,687.5L-34.0,630.7M-34.0,630.7L167.7,573.8M167.7,573.8L369.9,516.7M369.9,516.7L572.5,459.6M-162.7,553.2L-272.3,732.5M-149.4,549.4L-256.9,728.2M-136.2,545.7L-241.5,723.9M-122.9,541.9L-226.2,719.5M-109.7,538.2L-210.8,715.2M-96.4,534.4L-195.4,710.8M-83.1,530.7L-180.0,706.5M-69.9,526.9L-164.6,702.2M-56.6,523.1L-149.2,697.8M-43.3,519.4L-133.8,693.5M-30.0,515.6L-118.3,689.1M-16.8,511.9L-102.9,684.8M-3.5,508.1L-87.5,680.4M9.8,504.4L-72.1,676.1M23.1,500.6L-56.7,671.7M36.4,496.8L-41.3,667.4M49.7,493.1L-25.8,663.0M63.0,489.3L-10.4,658.7M76.2,485.6L5.0,654.3M89.5,481.8L20.4,650.0M102.8,478.1L35.9,645.6M116.1,474.3L51.3,641.3M129.4,470.5L66.7,636.9M142.7,466.8L82.2,632.6M156.0,463.0L97.6,628.2M169.3,459.2L113.1,623.8M182.6,455.5L128.5,619.5M196.0,451.7L144.0,615.1M209.3,447.9L159.4,610.8M222.6,444.2L174.9,606.4M235.9,440.4L190.3,602.0M249.2,436.7L205.8,597.7M262.5,432.9L221.3,593.3M275.8,429.1L236.7,589.0M289.2,425.3L252.2,584.6M302.5,421.6L267.7,580.2M315.8,417.8L283.2,575.9M329.1,414.0L298.6,571.5M342.5,410.3L314.1,567.1M355.8,406.5L329.6,562.8M369.1,402.7L345.1,558.4M382.5,399.0L360.6,554.0M395.8,395.2L376.1,549.7M409.1,391.4L391.5,545.3M422.5,387.6L407.0,540.9M435.8,383.9L422.5,536.6M449.2,380.1L438.0,532.2M462.5,376.3L453.5,527.8M475.9,372.5L469.0,523.4M489.2,368.8L484.6,519.1M502.6,365.0L500.1,514.7M515.9,361.2L515.6,510.3M529.3,357.4L531.1,505.9M542.6,353.7L546.6,501.6M556.0,349.9L562.1,497.2" stroke="#1e1e1e" stroke-width="2.5" fill="none" stroke-linecap="round"/>
<path d="M-242.7,699.9L-39.5,642.6M-39.5,642.6L164.2,585.1M164.2,585.1L368.4,527.5M368.4,527.5L573.0,469.7M-250.4,712.6L-45.1,654.7M-45.1,654.7L160.7,596.6M160.7,596.6L366.9,538.4M366.9,538.4L573.6,480.1M-258.2,725.5L-50.8,667.0M-50.8,667.0L157.1,608.4M157.1,608.4L365.4,549.6M365.4,549.6L574.1,490.7M-266.1,738.7L-56.6,679.6M-56.6,679.6L153.4,620.4M153.4,620.4L363.8,561.0M363.8,561.0L574.7,501.5M-274.2,752.1L-62.6,692.4M-62.6,692.4L149.6,632.6M149.6,632.6L362.2,572.7M362.2,572.7L575.3,512.6M-282.5,765.8L-68.6,705.5M-68.6,705.5L145.7,645.1M145.7,645.1L360.6,584.6M360.6,584.6L575.9,523.8" stroke="#1e1e1e" stroke-width="2.75" fill="none" stroke-linecap="round"/>
<path d="M-291.0,779.8L-74.8,718.9M-74.8,718.9L141.8,657.9M141.8,657.9L358.9,596.7M358.9,596.7L576.5,535.4M-299.6,794.2L-81.2,732.6M-81.2,732.6L137.7,670.9M137.7,670.9L357.2,609.1M357.2,609.1L577.1,547.1M-308.4,808.8L-87.7,746.6M-87.7,746.6L133.6,684.3M133.6,684.3L355.4,621.8M355.4,621.8L577.8,559.1M-317.4,823.7L-94.3,760.9M-94.3,760.9L129.4,697.9M129.4,697.9L353.7,634.7M353.7,634.7L578.4,571.4M-326.7,839.0L-101.0,775.5M-101.0,775.5L125.1,711.8M125.1,711.8L351.8,647.9M351.8,647.9L579.1,584.0M-272.3,732.5L-424.0,980.8M-256.9,728.2L-405.7,975.6M-241.5,723.9L-387.3,970.5M-226.2,719.5L-369.0,965.3M-210.8,715.2L-350.7,960.2M-195.4,710.8L-332.3,955.0M-180.0,706.5L-314.0,949.9M-164.6,702.2L-295.7,944.7M-149.2,697.8L-277.3,939.6M-133.8,693.5L-259.0,934.4M-118.3,689.1L-240.6,929.2M-102.9,684.8L-222.2,924.1M-87.5,680.4L-203.9,918.9M-72.1,676.1L-185.5,913.8M-56.7,671.7L-167.1,908.6M-41.3,667.4L-148.8,903.4M-25.8,663.0L-130.4,898.3M-10.4,658.7L-112.0,893.1M5.0,654.3L-93.6,888.0M20.4,650.0L-75.2,882.8M35.9,645.6L-56.8,877.6M51.3,641.3L-38.4,872.5M66.7,636.9L-20.0,867.3M82.2,632.6L-1.6,862.1M97.6,628.2L16.8,856.9M113.1,623.8L35.2,851.8M128.5,619.5L53.6,846.6M144.0,615.1L72.0,841.4M159.4,610.8L90.4,836.2M174.9,606.4L108.8,831.1M190.3,602.0L127.3,825.9M205.8,597.7L145.7,820.7M221.3,593.3L164.1,815.5M236.7,589.0L182.6,810.4M252.2,584.6L201.0,805.2M267.7,580.2L219.5,800.0M283.2,575.9L237.9,794.8M298.6,571.5L256.4,789.6M314.1,567.1L274.8,784.4M329.6,562.8L293.3,779.2M345.1,558.4L311.8,774.1M360.6,554.0L330.2,768.9M376.1,549.7L348.7,763.7M391.5,545.3L367.2,758.5M407.0,540.9L385.7,753.3M422.5,536.6L404.1,748.1M438.0,532.2L422.6,742.9M453.5,527.8L441.1,737.7M469.0,523.4L459.6,732.5M484.6,519.1L478.1,727.3M500.1,514.7L496.6,722.1M515.6,510.3L515.1,716.9M531.1,505.9L533.6,711.7M546.6,501.6L552.1,706.5M562.1,497.2L570.6,701.3" stroke="#1e1e1e" stroke-width="3.0" fill="none" stroke-linecap="round"/>
<path d="M-336.1,854.6L-107.9,790.4M-107.9,790.4L120.7,726.0M120.7,726.0L350.0,661.5M350.0,661.5L579.8,596.8M-345.7,870.6L-115.0,805.6M-115.0,805.6L116.2,740.6M116.2,740.6L348.1,675.3M348.1,675.3L580.5,609.9M-355.6,886.9L-122.2,821.3M-122.2,821.3L111.7,755.4M111.7,755.4L346.1,689.5M346.1,689.5L581.2,623.3M-365.6,903.6L-129.6,837.2M-129.6,837.2L107.0,770.7M107.0,770.7L344.1,704.0M344.1,704.0L581.9,637.1M-376.0,920.7L-137.2,853.6M-137.2,853.6L102.1,786.3M102.1,786.3L342.1,718.8M342.1,718.8L582.7,651.1" stroke="#1e1e1e" stroke-width="3.25" fill="none" stroke-linecap="round"/>
<path d="M-386.5,938.2L-145.0,870.3M-145.0,870.3L97.2,802.2M97.2,802.2L340.0,733.9M340.0,733.9L583.5,665.5M-397.3,956.1L-152.9,887.4M-152.9,887.4L92.2,818.5M92.2,818.5L337.9,749.5M337.9,749.5L584.2,680.2M-408.4,974.5L-161.0,905.0M-161.0,905.0L87.0,835.3M87.0,835.3L335.7,765.4M335.7,765.4L585.0,695.3" stroke="#1e1e1e" stroke-width="3.5" fill="none" stroke-linecap="round"/>
</g>
<path d="M-6.5,316.6 L44.7,346.3 L95.8,375.9 L147.0,405.6 L198.2,435.3 L243.1,460.5 L287.9,485.7 L332.8,510.9 L377.6,536.1 L419.2,561.2 L460.9,586.3 L502.6,611.4 L544.3,636.5 L549.7,627.5 L507.9,602.6 L466.1,577.7 L424.3,552.8 L382.4,527.9 L337.2,503.1 L292.1,478.3 L246.9,453.5 L201.8,428.7 L150.5,399.4 L99.2,370.1 L47.8,340.7 L-3.5,311.4Z" fill="#2a2c2e"/>
<path d="M545,631 Q566,636 563,656 L512,706" fill="none" stroke="#262626" stroke-width="11" stroke-linecap="round"/>
<path d="M533,650 Q552,650 550,668 L505,706" fill="none" stroke="#262626" stroke-width="9" stroke-linecap="round"/>
<path d="M590,492 Q586,505 586,520 L586,638 Q586,660 568,672 L528,706" fill="none" stroke="#2b2b2b" stroke-width="19" stroke-linejoin="round"/>
<clipPath id="cTopA"><polygon points="0.0,0.0 82.0,0.0 400.0,118.0 600.0,193.0 772.0,255.0 795.0,262.0 790.0,294.0 680.0,396.0 588.0,480.0 580.0,492.0 400.0,404.0 200.0,300.0 0.0,196.0"/></clipPath>
<g clip-path="url(#cTopA)">
<path d="M-4.4,-4.9L191.0,-31.1M191.0,-31.1L379.1,-56.4M379.1,-56.4L560.3,-80.7M560.3,-80.7L735.0,-104.2M-8.2,-1.0L188.5,-27.4M188.5,-27.4L377.7,-52.9M377.7,-52.9L560.0,-77.5M560.0,-77.5L735.6,-101.1M-12.1,3.0L185.8,-23.7M185.8,-23.7L376.3,-49.4M376.3,-49.4L559.6,-74.2M559.6,-74.2L736.3,-98.0M-16.0,7.0L183.2,-20.0M183.2,-20.0L374.8,-45.9M374.8,-45.9L559.2,-70.9M559.2,-70.9L736.9,-94.9M-20.0,11.0L180.5,-16.2M180.5,-16.2L373.3,-42.3M373.3,-42.3L558.9,-67.5M558.9,-67.5L737.5,-91.7M-24.0,15.1L177.8,-12.4M177.8,-12.4L371.8,-38.7M371.8,-38.7L558.5,-64.1M558.5,-64.1L738.2,-88.6M-28.0,19.2L175.1,-8.5M175.1,-8.5L370.3,-35.1M370.3,-35.1L558.1,-60.7M558.1,-60.7L738.9,-85.3M-32.1,23.4L172.3,-4.5M172.3,-4.5L368.8,-31.4M368.8,-31.4L557.7,-57.2M557.7,-57.2L739.5,-82.1M-36.3,27.7L169.5,-0.5M169.5,-0.5L367.2,-27.6M367.2,-27.6L557.3,-53.7M557.3,-53.7L740.2,-78.8M-40.5,32.0L166.7,3.5M166.7,3.5L365.7,-23.8M365.7,-23.8L556.9,-50.1M556.9,-50.1L740.9,-75.4M-44.8,36.3L163.8,7.6M163.8,7.6L364.1,-20.0M364.1,-20.0L556.5,-46.5M556.5,-46.5L741.6,-72.0M-49.1,40.7L160.9,11.7M160.9,11.7L362.5,-16.1M362.5,-16.1L556.1,-42.9M556.1,-42.9L742.3,-68.6M-53.5,45.2L157.9,15.9M157.9,15.9L360.8,-12.2M360.8,-12.2L555.7,-39.2M555.7,-39.2L743.0,-65.1M-57.9,49.7L155.0,20.2M155.0,20.2L359.2,-8.2M359.2,-8.2L555.3,-35.4M555.3,-35.4L743.8,-61.6M-62.4,54.3L151.9,24.5M151.9,24.5L357.5,-4.2M357.5,-4.2L554.9,-31.7M554.9,-31.7L744.5,-58.1M-66.9,59.0L148.9,28.8M148.9,28.8L355.8,-0.1M355.8,-0.1L554.4,-27.8M554.4,-27.8L745.2,-54.5M-71.6,63.7L145.8,33.2M145.8,33.2L354.1,4.0M354.1,4.0L554.0,-24.0M554.0,-24.0L746.0,-50.8M-76.2,68.4L142.6,37.7M142.6,37.7L352.4,8.2M352.4,8.2L553.6,-20.0M553.6,-20.0L746.7,-47.2M-81.0,73.3L139.4,42.2M139.4,42.2L350.6,12.5M350.6,12.5L553.1,-16.0M553.1,-16.0L747.5,-43.4M-85.8,78.2L136.2,46.8M136.2,46.8L348.8,16.8M348.8,16.8L552.7,-12.0M552.7,-12.0L748.3,-39.7M-90.7,83.2L132.9,51.5M132.9,51.5L347.0,21.1M347.0,21.1L552.2,-7.9M552.2,-7.9L749.1,-35.8M-95.6,88.2L129.6,56.2M129.6,56.2L345.2,25.6M345.2,25.6L551.8,-3.8M551.8,-3.8L749.9,-32.0M-100.6,93.3L126.2,61.0M126.2,61.0L343.3,30.0M343.3,30.0L551.3,0.4M551.3,0.4L750.7,-28.0M-105.7,98.5L122.8,65.8M122.8,65.8L341.5,34.6M341.5,34.6L550.8,4.6M550.8,4.6L751.5,-24.1M-110.8,103.7L119.4,70.7M119.4,70.7L339.6,39.2M339.6,39.2L550.3,8.9M550.3,8.9L752.3,-20.0M-116.1,109.1L115.9,75.7M115.9,75.7L337.6,43.8M337.6,43.8L549.9,13.3M549.9,13.3L753.2,-16.0M-121.4,114.5L112.3,80.8M112.3,80.8L335.7,48.5M335.7,48.5L549.4,17.7M549.4,17.7L754.0,-11.8M-126.7,120.0L108.7,85.9M108.7,85.9L333.7,53.3M333.7,53.3L548.9,22.2M548.9,22.2L754.9,-7.7M-132.2,125.5L105.1,91.1M105.1,91.1L331.7,58.2M331.7,58.2L548.4,26.7M548.4,26.7L755.8,-3.4M101.4,96.3L329.6,63.1M329.6,63.1L547.8,31.3M547.8,31.3L756.7,0.9M97.6,101.7L327.6,68.1M327.6,68.1L547.3,36.0M547.3,36.0L757.5,5.2M93.8,107.1L325.5,73.1M325.5,73.1L546.8,40.7M546.8,40.7L758.5,9.6M323.3,78.3L546.3,45.5M546.3,45.5L759.4,14.1M321.2,83.5L545.7,50.3M545.7,50.3L760.3,18.7M319.0,88.8L545.2,55.3M545.2,55.3L761.3,23.2M544.6,60.3L762.2,27.9M544.1,65.3L763.2,32.6M543.5,70.5L764.2,37.4M-10.7,-2.0L-110.7,99.6M-0.2,-3.4L-98.5,97.8M10.3,-4.8L-86.2,96.0M20.7,-6.2L-74.0,94.3M31.2,-7.6L-61.8,92.6M41.6,-9.0L-49.6,90.8M52.0,-10.4L-37.4,89.1M62.4,-11.8L-25.3,87.3M72.8,-13.2L-13.2,85.6M83.1,-14.6L-1.2,83.9M93.4,-16.0L10.8,82.2M103.7,-17.4L22.8,80.5M114.0,-18.7L34.8,78.7M124.3,-20.1L46.8,77.0M134.5,-21.5L58.7,75.3M144.7,-22.9L70.6,73.6M154.9,-24.2L82.4,71.9M165.1,-25.6L94.3,70.2M175.3,-27.0L106.1,68.5M185.4,-28.3L117.8,66.9M195.5,-29.7L129.6,65.2M205.6,-31.1L141.3,63.5M215.7,-32.4L153.0,61.8M225.7,-33.8L164.7,60.2M235.8,-35.1L176.3,58.5M245.8,-36.5L188.0,56.8M255.8,-37.8L199.5,55.2M265.8,-39.1L211.1,53.5M275.7,-40.5L222.6,51.9M285.6,-41.8L234.1,50.2M295.6,-43.2L245.6,48.6M305.4,-44.5L257.1,47.0M315.3,-45.8L268.5,45.3M325.2,-47.1L279.9,43.7M335.0,-48.5L291.3,42.1M344.8,-49.8L302.7,40.4M354.6,-51.1L314.0,38.8M364.4,-52.4L325.3,37.2M374.2,-53.7L336.6,35.6M383.9,-55.0L347.8,34.0M393.6,-56.3L359.0,32.4M403.3,-57.6L370.2,30.8M413.0,-58.9L381.4,29.2M422.7,-60.2L392.5,27.6M432.3,-61.5L403.7,26.0M441.9,-62.8L414.8,24.4M451.5,-64.1L425.8,22.8M425.8,22.8L391.1,140.3M461.1,-65.4L436.9,21.2M436.9,21.2L404.1,138.3M470.7,-66.7L447.9,19.7M447.9,19.7L417.1,136.3M480.2,-68.0L458.9,18.1M458.9,18.1L430.1,134.3M489.8,-69.3L469.9,16.5M469.9,16.5L443.0,132.3M499.3,-70.6L480.8,15.0M480.8,15.0L455.9,130.3M508.8,-71.8L491.7,13.4M491.7,13.4L468.8,128.4M518.2,-73.1L502.6,11.8M502.6,11.8L481.6,126.4M527.7,-74.4L513.5,10.3M513.5,10.3L494.4,124.4M537.1,-75.6L524.4,8.7M524.4,8.7L507.2,122.4M546.5,-76.9L535.2,7.2M535.2,7.2L519.9,120.5M555.9,-78.2L546.0,5.6M546.0,5.6L532.6,118.5M565.3,-79.4L556.8,4.1M556.8,4.1L545.3,116.5M574.7,-80.7L567.5,2.6M567.5,2.6L557.9,114.6M584.0,-82.0L578.3,1.0M578.3,1.0L570.5,112.6M593.4,-83.2L589.0,-0.5M589.0,-0.5L583.0,110.7M602.7,-84.5L599.6,-2.0M599.6,-2.0L595.6,108.8M612.0,-85.7L610.3,-3.6M610.3,-3.6L608.1,106.8M621.2,-87.0L620.9,-5.1M620.9,-5.1L620.5,104.9M630.5,-88.2L631.6,-6.6M631.6,-6.6L633.0,103.0M639.7,-89.4L642.1,-8.1M642.1,-8.1L645.4,101.1M649.0,-90.7L652.7,-9.6M652.7,-9.6L657.7,99.2M658.2,-91.9L663.2,-11.1M663.2,-11.1L670.1,97.3M667.3,-93.2L673.8,-12.6M673.8,-12.6L682.4,95.4M676.5,-94.4L684.3,-14.1M684.3,-14.1L694.6,93.5M685.7,-95.6L694.7,-15.6M694.7,-15.6L706.9,91.6M694.8,-96.8L705.2,-17.1M705.2,-17.1L719.1,89.7M703.9,-98.1L715.6,-18.6M715.6,-18.6L731.3,87.8M713.0,-99.3L726.0,-20.1M726.0,-20.1L743.4,85.9M722.1,-100.5L736.4,-21.6M736.4,-21.6L755.5,84.1M731.2,-101.7L746.8,-23.1M746.8,-23.1L767.6,82.2" stroke="#222" stroke-width="1.0" fill="none" stroke-linecap="round"/>
<path d="M-137.7,131.2L101.4,96.3M-143.3,136.9L97.6,101.7M-149.0,142.7L93.8,107.1M-154.8,148.6L89.9,112.6M89.9,112.6L323.3,78.3M-160.7,154.6L86.0,118.2M86.0,118.2L321.2,83.5M-166.6,160.7L82.0,123.9M82.0,123.9L319.0,88.8M-172.7,166.9L77.9,129.6M77.9,129.6L316.8,94.1M316.8,94.1L544.6,60.3M-178.8,173.1L73.8,135.5M73.8,135.5L314.5,99.6M314.5,99.6L544.1,65.3M-185.1,179.5L69.7,141.4M69.7,141.4L312.2,105.1M312.2,105.1L543.5,70.5M-191.4,186.0L65.4,147.4M65.4,147.4L309.9,110.7M309.9,110.7L542.9,75.7M542.9,75.7L765.2,42.3M-197.8,192.5L61.1,153.5M61.1,153.5L307.6,116.4M307.6,116.4L542.3,81.0M542.3,81.0L766.2,47.2M-204.4,199.2L56.8,159.7M56.8,159.7L305.2,122.1M305.2,122.1L541.7,86.3M541.7,86.3L767.2,52.2M-211.0,206.0L52.3,166.0M52.3,166.0L302.7,128.0M302.7,128.0L541.1,91.8M541.1,91.8L768.3,57.3M-217.8,212.9L47.8,172.4M47.8,172.4L300.3,133.9M300.3,133.9L540.5,97.3M540.5,97.3L769.4,62.5M-224.6,219.9L43.3,178.9M43.3,178.9L297.8,140.0M297.8,140.0L539.9,102.9M539.9,102.9L770.4,67.7M-231.6,227.0L38.6,185.5M38.6,185.5L295.2,146.1M295.2,146.1L539.2,108.7M539.2,108.7L771.5,73.0M-238.7,234.2L33.9,192.2M33.9,192.2L292.6,152.4M292.6,152.4L538.6,114.4M538.6,114.4L772.6,78.4M29.1,199.1L290.0,158.7M290.0,158.7L537.9,120.3M537.9,120.3L773.8,83.8M24.2,206.0L287.3,165.1M287.3,165.1L537.3,126.3M537.3,126.3L774.9,89.4M19.2,213.0L284.6,171.7M284.6,171.7L536.6,132.4M536.6,132.4L776.1,95.0M281.9,178.3L535.9,138.5M535.9,138.5L777.2,100.7M279.1,185.0L535.2,144.8M535.2,144.8L778.4,106.5M276.2,191.9L534.5,151.1M534.5,151.1L779.7,112.4M273.4,198.9L533.8,157.6M533.8,157.6L780.9,118.4M533.0,164.2L782.2,124.5M532.3,170.9L783.4,130.7M531.5,177.6L784.7,137.0M-110.7,99.6L-248.2,239.1M-98.5,97.8L-233.4,236.8M-86.2,96.0L-218.7,234.5M-74.0,94.3L-204.0,232.3M-61.8,92.6L-189.4,230.0M-49.6,90.8L-174.7,227.7M-37.4,89.1L-160.2,225.5M-25.3,87.3L-145.6,223.3M-13.2,85.6L-131.1,221.0M-1.2,83.9L-116.7,218.8M10.8,82.2L-102.3,216.6M22.8,80.5L-87.9,214.3M34.8,78.7L-73.6,212.1M46.8,77.0L-59.3,209.9M58.7,75.3L-45.0,207.7M70.6,73.6L-30.8,205.5M82.4,71.9L-16.6,203.3M94.3,70.2L-2.5,201.1M106.1,68.5L11.6,199.0M117.8,66.9L25.7,196.8M129.6,65.2L39.7,194.6M141.3,63.5L53.7,192.5M153.0,61.8L67.6,190.3M164.7,60.2L81.5,188.2M176.3,58.5L95.4,186.0M188.0,56.8L109.2,183.9M199.5,55.2L123.0,181.8M211.1,53.5L136.7,179.6M222.6,51.9L150.5,177.5M234.1,50.2L164.1,175.4M245.6,48.6L177.8,173.3M257.1,47.0L191.4,171.2M268.5,45.3L204.9,169.1M279.9,43.7L218.5,167.0M291.3,42.1L232.0,164.9M302.7,40.4L245.4,162.9M314.0,38.8L258.8,160.8M325.3,37.2L272.2,158.7M336.6,35.6L285.6,156.6M347.8,34.0L298.9,154.6M359.0,32.4L312.2,152.5M370.2,30.8L325.4,150.5M381.4,29.2L338.6,148.5M392.5,27.6L351.8,146.4M403.7,26.0L364.9,144.4M414.8,24.4L378.0,142.4M767.6,82.2L797.0,230.3" stroke="#222" stroke-width="1.25" fill="none" stroke-linecap="round"/>
<path d="M-245.9,241.6L29.1,199.1M-253.2,249.1L24.2,206.0M-260.7,256.7L19.2,213.0M-268.3,264.4L14.2,220.2M14.2,220.2L281.9,178.3M-276.0,272.3L9.1,227.5M9.1,227.5L279.1,185.0M-283.8,280.3L3.9,234.9M3.9,234.9L276.2,191.9M-291.8,288.5L-1.4,242.4M-1.4,242.4L273.4,198.9M-300.0,296.8L-6.8,250.1M-6.8,250.1L270.4,206.0M270.4,206.0L533.0,164.2M-308.2,305.2L-12.3,257.9M-12.3,257.9L267.4,213.2M267.4,213.2L532.3,170.9M-316.7,313.8L-17.9,265.9M-17.9,265.9L264.4,220.5M264.4,220.5L531.5,177.6M-325.2,322.6L-23.6,273.9M-23.6,273.9L261.3,228.0M261.3,228.0L530.8,184.5M530.8,184.5L786.0,143.4M-334.0,331.5L-29.4,282.2M-29.4,282.2L258.1,235.6M258.1,235.6L530.0,191.6M530.0,191.6L787.4,149.9M-342.9,340.6L-35.3,290.5M-35.3,290.5L254.9,243.3M254.9,243.3L529.2,198.7M529.2,198.7L788.7,156.5M-41.3,299.1L251.7,251.2M251.7,251.2L528.4,206.0M528.4,206.0L790.1,163.2M-47.4,307.7L248.4,259.2M248.4,259.2L527.5,213.4M527.5,213.4L791.5,170.0M-53.6,316.6L245.0,267.3M245.0,267.3L526.7,220.9M526.7,220.9L793.0,177.0M241.5,275.6L525.9,228.5M525.9,228.5L794.4,184.0M238.0,284.1L525.0,236.3M525.0,236.3L795.9,191.2M234.5,292.7L524.1,244.2M524.1,244.2L797.4,198.5M523.2,252.3L799.0,206.0M522.3,260.5L800.5,213.5M521.4,268.9L802.1,221.2M520.4,277.4L803.7,229.1M-233.4,236.8L-430.5,439.8M-218.7,234.5L-412.1,436.6M-204.0,232.3L-393.7,433.5M-189.4,230.0L-375.3,430.4M-174.7,227.7L-357.1,427.3M-160.2,225.5L-338.8,424.1M-145.6,223.3L-320.7,421.0M-131.1,221.0L-302.6,418.0M-116.7,218.8L-284.6,414.9M-102.3,216.6L-266.6,411.8M-87.9,214.3L-248.7,408.8M-73.6,212.1L-230.9,405.7M-59.3,209.9L-213.1,402.7M-45.0,207.7L-195.4,399.7M-30.8,205.5L-177.7,396.6M-16.6,203.3L-160.1,393.6M-2.5,201.1L-142.6,390.7M11.6,199.0L-125.1,387.7M25.7,196.8L-107.7,384.7M39.7,194.6L-90.3,381.7M53.7,192.5L-73.0,378.8M67.6,190.3L-55.7,375.8M81.5,188.2L-38.6,372.9M95.4,186.0L-21.4,370.0M109.2,183.9L-4.3,367.1M123.0,181.8L12.7,364.2M136.7,179.6L29.6,361.3M150.5,177.5L46.5,358.4M164.1,175.4L63.4,355.5M177.8,173.3L80.2,352.6M191.4,171.2L96.9,349.8M204.9,169.1L113.6,346.9M218.5,167.0L130.2,344.1M232.0,164.9L146.8,341.3M245.4,162.9L163.3,338.4M258.8,160.8L179.8,335.6M272.2,158.7L196.2,332.8M285.6,156.6L212.6,330.0M298.9,154.6L228.9,327.3M312.2,152.5L245.1,324.5M325.4,150.5L261.3,321.7M338.6,148.5L277.5,319.0M351.8,146.4L293.6,316.2M364.9,144.4L309.6,313.5M378.0,142.4L325.6,310.8M391.1,140.3L341.6,308.0M404.1,138.3L357.4,305.3M417.1,136.3L373.3,302.6M430.1,134.3L389.1,299.9M443.0,132.3L404.8,297.2M455.9,130.3L420.5,294.6M468.8,128.4L436.1,291.9M481.6,126.4L451.7,289.2M494.4,124.4L467.3,286.6M507.2,122.4L482.7,283.9M519.9,120.5L498.2,281.3M532.6,118.5L513.6,278.7M545.3,116.5L528.9,276.1M557.9,114.6L544.2,273.5M570.5,112.6L559.5,270.9M583.0,110.7L574.6,268.3M595.6,108.8L589.8,265.7M608.1,106.8L604.9,263.1M620.5,104.9L620.0,260.5M633.0,103.0L635.0,258.0M645.4,101.1L649.9,255.4M657.7,99.2L664.8,252.9M670.1,97.3L679.7,250.3M682.4,95.4L694.5,247.8M694.6,93.5L709.3,245.3M706.9,91.6L724.0,242.8M719.1,89.7L738.7,240.3M731.3,87.8L753.4,237.8M743.4,85.9L767.9,235.3M755.5,84.1L782.5,232.8" stroke="#222" stroke-width="1.5" fill="none" stroke-linecap="round"/>
<path d="M-351.9,349.8L-41.3,299.1M-361.2,359.3L-47.4,307.7M-370.6,368.9L-53.6,316.6M-380.2,378.7L-59.9,325.6M-59.9,325.6L241.5,275.6M-390.0,388.6L-66.4,334.8M-66.4,334.8L238.0,284.1M-400.0,398.8L-73.0,344.1M-73.0,344.1L234.5,292.7M-410.1,409.2L-79.7,353.7M-79.7,353.7L230.8,301.5M230.8,301.5L523.2,252.3M-420.5,419.8L-86.5,363.4M-86.5,363.4L227.1,310.4M227.1,310.4L522.3,260.5M-431.1,430.6L-93.5,373.3M-93.5,373.3L223.4,319.5M223.4,319.5L521.4,268.9M-441.9,441.6L-100.6,383.4M-100.6,383.4L219.5,328.8M219.5,328.8L520.4,277.4M-107.9,393.7L215.6,338.2M215.6,338.2L519.4,286.1M519.4,286.1L805.4,237.1M-115.3,404.2L211.6,347.9M211.6,347.9L518.4,295.0M518.4,295.0L807.0,245.2M-122.8,415.0L207.5,357.7M207.5,357.7L517.4,304.0M517.4,304.0L808.8,253.5M203.4,367.7L516.4,313.2M516.4,313.2L810.5,261.9M199.1,378.0L515.4,322.6M515.4,322.6L812.3,270.5M194.8,388.4L514.3,332.1M514.3,332.1L814.1,279.3M513.2,341.9L815.9,288.3M512.1,351.8L817.8,297.4M511.0,362.0L819.7,306.7M509.8,372.3L821.7,316.1M-248.2,239.1L-449.1,443.0M782.5,232.8L823.3,457.7M797.0,230.3L841.4,454.2" stroke="#222" stroke-width="1.75" fill="none" stroke-linecap="round"/>
<path d="M-452.9,452.9L-107.9,393.7M-464.2,464.4L-115.3,404.2M-475.7,476.1L-122.8,415.0M-487.4,488.1L-130.5,425.9M-130.5,425.9L203.4,367.7M-499.4,500.4L-138.4,437.1M-138.4,437.1L199.1,378.0M-511.7,512.9L-146.4,448.5M-146.4,448.5L194.8,388.4M-524.2,525.7L-154.6,460.2M-154.6,460.2L190.4,399.1M190.4,399.1L513.2,341.9M-537.1,538.7L-163.0,472.1M-163.0,472.1L185.9,409.9M185.9,409.9L512.1,351.8M-550.2,552.1L-171.6,484.3M-171.6,484.3L181.3,421.1M181.3,421.1L511.0,362.0M-563.6,565.8L-180.4,496.7M-180.4,496.7L176.6,432.4M176.6,432.4L509.8,372.3M-577.3,579.8L-189.3,509.4M-189.3,509.4L171.8,444.0M171.8,444.0L508.6,382.9M508.6,382.9L823.7,325.8M-591.3,594.1L-198.5,522.5M-198.5,522.5L166.9,455.8M166.9,455.8L507.4,393.7M507.4,393.7L825.7,335.7M-605.7,608.8L-207.8,535.8M-207.8,535.8L161.8,467.9M161.8,467.9L506.2,404.7M506.2,404.7L827.8,345.7M-620.4,623.8L-217.4,549.4M-217.4,549.4L156.7,480.3M156.7,480.3L504.9,416.0M504.9,416.0L829.9,356.0M-635.4,639.1L-227.2,563.3M-227.2,563.3L151.5,492.9M151.5,492.9L503.7,427.5M503.7,427.5L832.1,366.5M-650.9,654.9L-237.2,577.6M-237.2,577.6L146.1,505.9M146.1,505.9L502.4,439.3M502.4,439.3L834.3,377.2M-666.7,671.0L-247.5,592.1M-247.5,592.1L140.6,519.1M140.6,519.1L501.0,451.3M501.0,451.3L836.5,388.2M-682.9,687.6L-258.0,607.1M-258.0,607.1L135.0,532.7M135.0,532.7L499.6,463.6M499.6,463.6L838.8,399.3M-699.5,704.5L-268.8,622.4M-268.8,622.4L129.3,546.5M129.3,546.5L498.2,476.2M498.2,476.2L841.2,410.8M-716.6,721.9L-279.8,638.1M-279.8,638.1L123.4,560.7M123.4,560.7L496.8,489.0M496.8,489.0L843.6,422.4M-734.1,739.8L-291.1,654.2M-291.1,654.2L117.4,575.2M117.4,575.2L495.3,502.2M495.3,502.2L846.1,434.4M-752.0,758.1L-302.8,670.7M-302.8,670.7L111.2,590.1M111.2,590.1L493.8,515.6M493.8,515.6L848.6,446.6M-449.1,443.0L-770.2,768.9M-430.5,439.8L-745.4,764.1M-412.1,436.6L-720.7,759.2M-393.7,433.5L-696.2,754.4M-375.3,430.4L-671.7,749.7M-357.1,427.3L-647.4,744.9M-338.8,424.1L-623.1,740.2M-320.7,421.0L-599.0,735.5M-302.6,418.0L-575.0,730.8M-284.6,414.9L-551.0,726.1M-266.6,411.8L-527.2,721.4M-248.7,408.8L-503.5,716.8M-230.9,405.7L-479.9,712.2M-213.1,402.7L-456.4,707.6M-195.4,399.7L-433.0,703.0M-177.7,396.6L-409.7,698.5M-160.1,393.6L-386.5,694.0M-142.6,390.7L-363.4,689.5M-125.1,387.7L-340.4,685.0M-107.7,384.7L-317.6,680.5M-90.3,381.7L-294.8,676.0M-73.0,378.8L-272.1,671.6M-55.7,375.8L-249.5,667.2M-38.6,372.9L-227.0,662.8M-21.4,370.0L-204.6,658.4M-4.3,367.1L-182.3,654.1M12.7,364.2L-160.0,649.7M29.6,361.3L-137.9,645.4M46.5,358.4L-115.9,641.1M63.4,355.5L-94.0,636.8M80.2,352.6L-72.1,632.6M96.9,349.8L-50.4,628.3M113.6,346.9L-28.7,624.1M130.2,344.1L-7.2,619.9M146.8,341.3L14.3,615.7M163.3,338.4L35.7,611.5M179.8,335.6L57.0,607.3M196.2,332.8L78.2,603.2M212.6,330.0L99.3,599.1M228.9,327.3L120.3,595.0M245.1,324.5L141.3,590.9M261.3,321.7L162.1,586.8M277.5,319.0L182.9,582.8M293.6,316.2L203.6,578.7M309.6,313.5L224.2,574.7M325.6,310.8L244.7,570.7M341.6,308.0L265.1,566.7M357.4,305.3L285.5,562.7M373.3,302.6L305.7,558.8M389.1,299.9L325.9,554.8M404.8,297.2L346.0,550.9M420.5,294.6L366.0,547.0M436.1,291.9L386.0,543.1M451.7,289.2L405.8,539.2M467.3,286.6L425.6,535.4M482.7,283.9L445.3,531.5M498.2,281.3L464.9,527.7M513.6,278.7L484.5,523.9M528.9,276.1L503.9,520.1M544.2,273.5L523.3,516.3M559.5,270.9L542.6,512.5M574.6,268.3L561.8,508.7M589.8,265.7L581.0,505.0M604.9,263.1L600.1,501.3M620.0,260.5L619.1,497.6M635.0,258.0L638.0,493.9M649.9,255.4L656.9,490.2M664.8,252.9L675.6,486.5M679.7,250.3L694.3,482.9M694.5,247.8L713.0,479.2M709.3,245.3L731.5,475.6M724.0,242.8L750.0,472.0M738.7,240.3L768.4,468.4M753.4,237.8L786.8,464.8M767.9,235.3L805.1,461.2" stroke="#222" stroke-width="2.0" fill="none" stroke-linecap="round"/>
</g>
<path d="M82.0,0.0 L400.0,118.0 L600.0,193.0 L770.0,255.0" fill="none" stroke="#2c2c2c" stroke-width="7"/>
<path d="M-8.0,199.8 L43.4,226.1 L94.7,252.3 L146.1,278.6 L197.5,304.9 L247.5,330.7 L297.6,356.5 L347.7,382.4 L397.9,408.2 L443.9,430.7 L490.0,453.2 L536.0,475.6 L582.0,498.0 L586.0,490.0 L540.0,467.4 L494.0,444.8 L448.1,422.3 L402.1,399.8 L352.3,373.6 L302.4,347.5 L252.5,321.3 L202.5,295.1 L151.4,268.4 L100.3,241.7 L49.1,214.9 L-2.0,188.2Z" fill="#33363a"/>
<polygon points="582.0,482.0 680.0,394.0 774.0,308.0 792.0,290.0 806.0,298.0 780.0,324.0 688.0,420.0 592.0,506.0" fill="#2e3134"/>
<path d="M600.0,480.0 L680.0,410.0 L770.0,320.0" fill="none" stroke="#3c4043" stroke-width="5"/>
<path d="M594.0,497.0 L688.0,414.0 L779.0,316.0 L798.0,298.0" fill="none" stroke="#9aa0a4" stroke-width="1.2" opacity="0.8"/>
<path d="M790,262 L798,300" stroke="#2e2e2e" stroke-width="12" stroke-linecap="round"/>
<path d="M589,446 L589,490" stroke="#2e2e2e" stroke-width="14"/>
<path d="M796,300 L763,578" stroke="#2c2f31" stroke-width="17" stroke-linecap="round"/>
<path d="M799,305 L767,570" stroke="#4a4f52" stroke-width="3" stroke-linecap="round" opacity="0.6"/>
<rect x="750" y="572" width="27" height="36" rx="8" fill="#1f1f1f"/>
<ellipse cx="763" cy="606" rx="13" ry="4" fill="#cfcfcf"/>
<path d="M150,-6 L200,12 L400,80 L560,140 L735,210 L768,223 Q792,232 792,250 L792,262" fill="none" stroke="#f5c987" stroke-opacity="0.42" stroke-width="20" filter="url(#glow)" stroke-linejoin="round" transform="translate(-1,-2.5)"/>
<path d="M-5,152 L200,258 L400,352 L566,436 Q586,446 600,432 L785,258 Q797,248 797,266 L797,290" fill="none" stroke="#f5c987" stroke-opacity="0.42" stroke-width="20" filter="url(#glow)" stroke-linejoin="round" transform="translate(-1,-2.5)"/>
<path d="M150,-6 L200,12 L400,80 L560,140 L735,210 L768,223 Q792,232 792,250 L792,262" fill="none" stroke="#bf8738" stroke-width="13.5" stroke-linejoin="round"/>
<path d="M150,-6 L200,12 L400,80 L560,140 L735,210 L768,223 Q792,232 792,250 L792,262" fill="none" stroke="#d7a253" stroke-width="3" stroke-linejoin="round" transform="translate(-0.8,-3.5)" opacity="0.55"/>
<path d="M-5,152 L200,258 L400,352 L566,436 Q586,446 600,432 L785,258 Q797,248 797,266 L797,290" fill="none" stroke="#bf8738" stroke-width="13.5" stroke-linejoin="round"/>
<path d="M-5,152 L200,258 L400,352 L566,436 Q586,446 600,432 L785,258 Q797,248 797,266 L797,290" fill="none" stroke="#d7a253" stroke-width="3" stroke-linejoin="round" transform="translate(-0.8,-3.5)" opacity="0.55"/>
</g>
<g clip-path="url(#botclip)">
<polygon points="495.0,805.0 700.0,892.0 697.0,934.0 495.0,846.0" fill="url(#b3)"/>
<polygon points="538.0,810.0 700.0,748.0 824.0,705.0 1151.0,705.0 700.0,888.0" fill="url(#b1)"/>
<polygon points="700.0,883.0 1151.0,705.0 1228.0,705.0 706.0,944.0" fill="url(#b2)"/>
<path d="M538.0,808.0 L700.0,748.0 L826.0,704.0" fill="none" stroke="#1a1a1a" stroke-width="7"/>
<path d="M494,802 L688,888" fill="none" stroke="#141414" stroke-width="10" stroke-linecap="round"/>
<path d="M686,887 Q700,892 712,885 L1152,704" fill="none" stroke="#141414" stroke-width="6.5" stroke-linejoin="round"/>
<polygon points="490.0,843.0 697.0,932.0 1218.0,705.0 1228.0,705.0 705.0,947.0 490.0,878.0" fill="#141414"/>
<path d="M703,886 L703,940" stroke="#141414" stroke-width="8"/>
<path d="M692,940 Q707,948 707,972 L707,1085 Q707,1108 735,1108" fill="none" stroke="#141414" stroke-width="19"/>
<polygon points="745.0,1075.0 1015.0,1203.0 1015.0,1258.0 737.0,1105.0" fill="url(#b5)"/>
<clipPath id="cLowB"><polygon points="745.0,1074.0 771.0,1068.0 1036.0,931.0 1240.0,821.0 1445.0,710.0 1445.0,925.0 1015.0,1203.0"/></clipPath>
<g clip-path="url(#cLowB)">
<rect x="700" y="700" width="745" height="520" fill="url(#b4)"/>
<rect x="700" y="700" width="745" height="520" fill="url(#farDark)"/>
</g>
<polygon points="1015.0,1205.0 1445.0,925.0 1445.0,966.0 1015.0,1258.0" fill="url(#b6)"/>
<path d="M1450,713 L1240,824.5 L1036,934.5 L771,1071.5 Q750,1068 746,1086" fill="none" stroke="#161616" stroke-width="8" stroke-linejoin="round"/>
<path d="M752,1070 L1005,1200 Q1016,1206 1026,1199 L1450,922" fill="none" stroke="#161616" stroke-width="7" stroke-linejoin="round"/>
<path d="M737,1106 L1005,1254 Q1015,1260 1026,1253 L1450,961" fill="none" stroke="#161616" stroke-width="10" stroke-linejoin="round"/>
<polygon points="1020.0,1244.0 1445.0,950.0 1445.0,966.0 1020.0,1262.0" fill="#161616"/>
<path d="M742,1080 L737,1106" stroke="#161616" stroke-width="12"/>
<path d="M728.8,1129.2 L748.1,1139.9 L767.3,1150.6 L786.4,1161.2 L805.4,1171.8 L824.4,1182.3 L843.2,1192.8 L861.9,1203.2 L880.6,1213.6 L899.1,1223.9 L917.6,1234.2 L936.0,1244.4 L954.4,1254.6 L963.1,1259.1 L970.8,1263.3 L977.6,1267.5 L983.6,1271.5 L988.7,1275.5 L993.0,1279.2 L996.5,1282.8 L999.1,1286.1 L1001.0,1289.1 L1002.2,1291.7 L1002.8,1294.0 L1003.0,1296.3 L1003.0,1306.5 L1003.0,1317.0 L1003.0,1327.5 L1003.0,1338.1 L1003.1,1342.2 L1003.6,1346.3 L1004.7,1350.4 L1006.6,1354.5 L1009.4,1358.2 L1013.2,1361.4 L1017.6,1363.4 L1022.2,1364.4 L1026.5,1364.4 L1030.7,1363.8 L1034.7,1362.6 L1041.2,1359.6 L1147.6,1276.4 L1253.9,1193.2 L1360.3,1110.1 L1466.6,1026.9 L1457.4,1015.1 L1349.7,1096.4 L1242.1,1177.8 L1134.4,1259.1 L1026.8,1340.4 L1027.2,1339.7 L1025.7,1340.0 L1024.8,1340.1 L1024.7,1340.1 L1025.3,1340.2 L1026.3,1340.6 L1027.2,1341.4 L1027.6,1342.0 L1027.6,1342.1 L1027.4,1341.4 L1027.2,1340.1 L1027.0,1337.9 L1027.0,1327.5 L1027.0,1317.0 L1027.0,1306.5 L1027.0,1295.7 L1026.4,1289.7 L1024.8,1283.5 L1022.1,1277.7 L1018.7,1272.1 L1014.4,1266.9 L1009.5,1261.8 L1003.9,1256.9 L997.6,1252.0 L990.5,1247.3 L982.8,1242.6 L974.4,1237.9 L965.6,1233.4 L947.2,1223.6 L928.6,1213.8 L909.9,1204.0 L891.0,1194.2 L872.0,1184.4 L852.8,1174.7 L833.5,1165.0 L814.1,1155.3 L794.6,1145.6 L774.9,1136.0 L755.1,1126.4 L735.2,1116.8Z" fill="#f3c585" stroke="#f3c585" stroke-width="4" stroke-linejoin="round"/>
<circle cx="732" cy="1123" r="8.5" fill="#f3c585"/>
<path d="M728.8,1129.2 L748.1,1139.9 L767.3,1150.6 L786.4,1161.2 L805.4,1171.8 L824.4,1182.3 L843.2,1192.8 L861.9,1203.2 L880.6,1213.6 L899.1,1223.9 L917.6,1234.2 L936.0,1244.4 L954.4,1254.6 L963.1,1259.1 L970.8,1263.3 L977.6,1267.5 L983.6,1271.5 L988.7,1275.5 L993.0,1279.2 L996.5,1282.8 L999.1,1286.1 L1001.0,1289.1 L1002.2,1291.7 L1002.8,1294.0 L1003.0,1296.3 L1003.0,1306.5 L1003.0,1317.0 L1003.0,1327.5 L1003.0,1338.1 L1003.1,1342.2 L1003.6,1346.3 L1004.7,1350.4 L1006.6,1354.5 L1009.4,1358.2 L1013.2,1361.4 L1017.6,1363.4 L1022.2,1364.4 L1026.5,1364.4 L1030.7,1363.8 L1034.7,1362.6 L1041.2,1359.6 L1147.6,1276.4 L1253.9,1193.2 L1360.3,1110.1 L1466.6,1026.9 L1457.4,1015.1 L1349.7,1096.4 L1242.1,1177.8 L1134.4,1259.1 L1026.8,1340.4 L1027.2,1339.7 L1025.7,1340.0 L1024.8,1340.1 L1024.7,1340.1 L1025.3,1340.2 L1026.3,1340.6 L1027.2,1341.4 L1027.6,1342.0 L1027.6,1342.1 L1027.4,1341.4 L1027.2,1340.1 L1027.0,1337.9 L1027.0,1327.5 L1027.0,1317.0 L1027.0,1306.5 L1027.0,1295.7 L1026.4,1289.7 L1024.8,1283.5 L1022.1,1277.7 L1018.7,1272.1 L1014.4,1266.9 L1009.5,1261.8 L1003.9,1256.9 L997.6,1252.0 L990.5,1247.3 L982.8,1242.6 L974.4,1237.9 L965.6,1233.4 L947.2,1223.6 L928.6,1213.8 L909.9,1204.0 L891.0,1194.2 L872.0,1184.4 L852.8,1174.7 L833.5,1165.0 L814.1,1155.3 L794.6,1145.6 L774.9,1136.0 L755.1,1126.4 L735.2,1116.8Z" fill="#a96a22"/>
<circle cx="732" cy="1123" r="7" fill="#a96a22"/>
</g>
<path d="M768,594.5 L1385,594.5" stroke="#151515" stroke-width="2.6"/>
<ellipse cx="968.2" cy="506" rx="143" ry="144" fill="#000" opacity="0.18" filter="url(#soft)"/>
<circle cx="968.2" cy="503" r="142.8" fill="#fff"/>
<g clip-path="url(#cR)">
<rect x="948" y="350" width="40" height="160" fill="url(#rod)"/>
<path d="M935,514 Q934,506 945,505 L986,505 Q996,506 995,514 L996,592 Q996,604 980,606 L950,606 Q932,604 933,594 Z" fill="url(#capg)"/>
<rect x="950" y="516" width="34" height="86" fill="url(#rodin)" opacity="0.8"/>
<path d="M936,515 Q965,521 994,515" fill="none" stroke="#f4f4f4" stroke-width="3"/>
<path d="M935,596 Q965,606 995,596" fill="none" stroke="#f0f0f0" stroke-width="3"/>
</g>
<circle cx="968.2" cy="503" r="142.8" fill="none" stroke="#111" stroke-width="4.3"/>
<circle cx="281.4" cy="794.6" r="219.7" fill="#fff" stroke="#0e0e0e" stroke-width="6.6"/>
<g transform="translate(188.0,717.8) rotate(-1.16)"><rect x="-60.0" y="-13.5" width="122.0" height="35.0" rx="11.2" fill="#000" opacity="0.08" filter="url(#soft)"/><rect x="-62.0" y="-17.5" width="124.0" height="35.0" rx="11.2" fill="#a99f95"/><rect x="-59.0" y="14.3" width="118.0" height="1.8" rx="0.9" fill="#d2ccc5"/><rect x="-61.0" y="-17.5" width="121.0" height="10.5" rx="5.2" fill="#b0a69c"/><rect x="-59.0" y="-7.0" width="119.0" height="1.8" fill="#7a7168"/><rect x="-59.0" y="-5.0" width="117.0" height="7.0" rx="2" fill="#b3a99f"/></g>
<g transform="translate(355.8,743.6) rotate(12.78)"><rect x="-59.7" y="-11.0" width="121.5" height="30.0" rx="9.6" fill="#000" opacity="0.08" filter="url(#soft)"/><rect x="-61.7" y="-15.0" width="123.5" height="30.0" rx="9.6" fill="#a99f95"/><rect x="-58.7" y="11.8" width="117.5" height="1.8" rx="0.9" fill="#d2ccc5"/><rect x="-57.7" y="-12.0" width="115.5" height="10.5" rx="3" fill="#b1a79d"/></g>
<g transform="translate(183.5,819.2) rotate(5.82)"><rect x="-63.1" y="-12.0" width="128.3" height="32.0" rx="10.2" fill="#000" opacity="0.08" filter="url(#soft)"/><rect x="-65.1" y="-16.0" width="130.3" height="32.0" rx="10.2" fill="#a99f95"/><rect x="-62.1" y="12.8" width="124.3" height="1.8" rx="0.9" fill="#d2ccc5"/><rect x="-61.1" y="-13.0" width="122.3" height="11.2" rx="3" fill="#b1a79d"/></g>
<g transform="translate(396.5,843.7) rotate(14.58)"><rect x="-62.4" y="-11.5" width="126.7" height="31.0" rx="9.9" fill="#000" opacity="0.08" filter="url(#soft)"/><rect x="-64.4" y="-15.5" width="128.7" height="31.0" rx="9.9" fill="#a99f95"/><rect x="-61.4" y="12.3" width="122.7" height="1.8" rx="0.9" fill="#d2ccc5"/><rect x="-63.4" y="-15.5" width="125.7" height="9.3" rx="4.6" fill="#b0a69c"/><rect x="-61.4" y="-6.2" width="123.7" height="1.8" fill="#7a7168"/><rect x="-61.4" y="-4.2" width="121.7" height="6.2" rx="2" fill="#b3a99f"/></g>
<path d="M747,295 L1385,295" stroke="#151515" stroke-width="2.6"/>
<path d="M63,1348.5 L1026,1348.5" stroke="#151515" stroke-width="2.2"/>
<circle cx="747" cy="295" r="9" fill="#fff" stroke="#151515" stroke-width="2.3"/>
<circle cx="768" cy="594.5" r="9" fill="#fff" stroke="#151515" stroke-width="2.3"/>
<circle cx="1027" cy="1347" r="10.3" fill="#fff" stroke="#151515" stroke-width="2.3"/>
<text x="1030" y="276" font-family="Liberation Sans, sans-serif" font-weight="bold" font-size="40" fill="#1b1b1b" textLength="357" lengthAdjust="spacingAndGlyphs" stroke="#fff" stroke-width="0.7">Protective railing</text>
<text x="1126" y="575.5" font-family="Liberation Sans, sans-serif" font-weight="bold" font-size="38.5" fill="#1b1b1b" textLength="260" lengthAdjust="spacingAndGlyphs" stroke="#fff" stroke-width="0.7">Non-slip cap</text>
<text x="61" y="1335" font-family="Liberation Sans, sans-serif" font-weight="bold" font-size="40.5" fill="#1b1b1b" textLength="424" lengthAdjust="spacingAndGlyphs" stroke="#fff" stroke-width="0.7">Powder coated steel</text>
<text x="207" y="914" font-family="Liberation Sans, sans-serif" font-size="33" fill="#262626" textLength="147.5" lengthAdjust="spacingAndGlyphs">Includes</text>
<text x="143.5" y="955.3" font-family="Liberation Sans, sans-serif" font-size="31.5" fill="#262626" textLength="278.5" lengthAdjust="spacingAndGlyphs">Non-Slip Silicon</text>
<text x="570" y="1299" font-family="Liberation Sans, sans-serif" font-weight="bold" font-size="91.5" fill="#1faa3f" stroke="#fff" stroke-width="1.1" textLength="245" lengthAdjust="spacingAndGlyphs">WIDE</text>
<path d="M668,1150 L976,1320" stroke="#1faa3f" stroke-width="6.5"/>
<path d="M705,1152 L664,1146 L690,1176" fill="none" stroke="#1faa3f" stroke-width="6" stroke-linejoin="miter" stroke-miterlimit="10"/>
<path d="M953,1291 L980,1322 L937,1315" fill="none" stroke="#1faa3f" stroke-width="6" stroke-linejoin="miter" stroke-miterlimit="10"/>
<polygon points="660,1143.5 686,1152 675,1164" fill="#1faa3f"/>
<polygon points="984,1324.5 958,1318 969,1305" fill="#1faa3f"/>
</svg>
</body></html>
